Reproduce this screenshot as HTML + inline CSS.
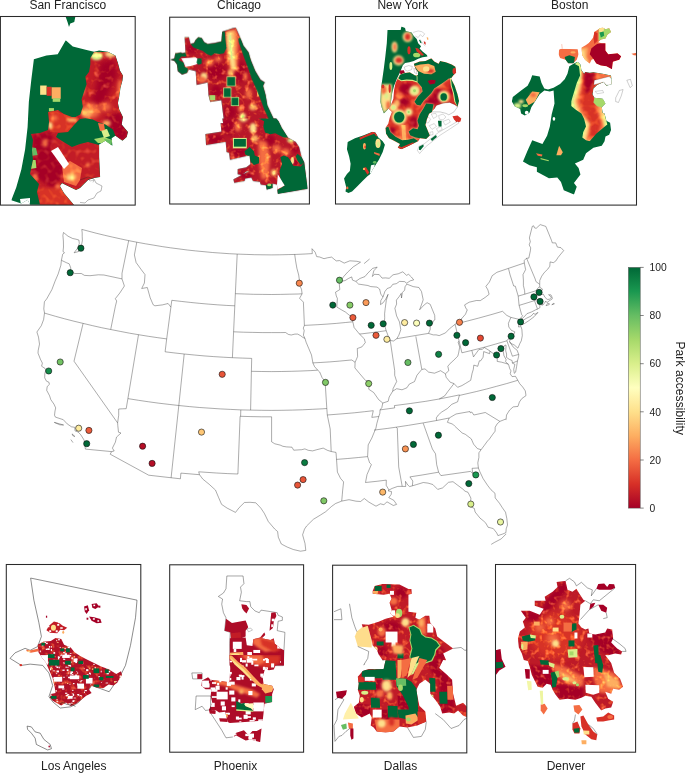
<!DOCTYPE html>
<html><head><meta charset="utf-8"><title>Park accessibility</title>
<style>html,body{margin:0;padding:0;background:#fff}svg{display:block}text{font-family:"Liberation Sans",sans-serif;fill:#222}</style></head><body>
<svg width="685" height="773" viewBox="0 0 685 773">
<rect width="685" height="773" fill="#fff"/>
<defs><linearGradient id="cb" x1="0" y1="1" x2="0" y2="0"><stop offset="0.0" stop-color="#a50026"/><stop offset="0.1" stop-color="#d73027"/><stop offset="0.2" stop-color="#f46d43"/><stop offset="0.3" stop-color="#fdae61"/><stop offset="0.4" stop-color="#fee08b"/><stop offset="0.5" stop-color="#ffffbf"/><stop offset="0.6" stop-color="#d9ef8b"/><stop offset="0.7" stop-color="#a6d96a"/><stop offset="0.8" stop-color="#66bd63"/><stop offset="0.9" stop-color="#1a9850"/><stop offset="1.0" stop-color="#006837"/></linearGradient>
<filter id="b1" x="-50%" y="-50%" width="200%" height="200%"><feGaussianBlur stdDeviation="1"/></filter>
<filter id="b2" x="-50%" y="-50%" width="200%" height="200%"><feGaussianBlur stdDeviation="2"/></filter>
<filter id="b3" x="-50%" y="-50%" width="200%" height="200%"><feGaussianBlur stdDeviation="3"/></filter>
<filter id="b5" x="-50%" y="-50%" width="200%" height="200%"><feGaussianBlur stdDeviation="5"/></filter>
</defs>
<defs><clipPath id="c1"><rect x="0.4" y="16.5" width="134.8" height="188.6"/></clipPath><clipPath id="c2"><polygon points="262,105 290,130 345,143 375,150 395,145 430,150 460,165 470,195 478,225 490,245 488,265 480,295 475,330 470,355 475,380 490,410 485,440 510,470 505,490 488,505 460,485 445,495 448,525 420,505 395,520 395,570 399,650 375,654 351,662 319,693 303,701 247,674 239,685 255,713 275,737 295,761 120,760 110,740 85,755 45,742 65,690 85,620 100,540 110,450 115,350 125,260 135,180 185,165 230,160"/></clipPath><clipPath id="c3"><polygon points="360,175 375,150 430,150 460,165 470,195 478,225 490,245 488,265 480,295 475,330 470,355 475,380 490,410 485,440 510,470 505,490 488,505 460,485 450,460 420,440 390,430 370,420 340,415 320,418 300,410 320,400 330,370 325,340 335,310 345,280 340,250 355,230 360,200"/></clipPath><clipPath id="c4"><polygon points="191.3,390.5 231.1,382.6 255.0,398.5 286.9,410.4 306.8,410.4 318.8,418.4 294.9,442.3 271.0,470.2 231.1,474.2 223.2,490.1 247.1,506.1 286.9,530.0 318.8,518.0 350.7,510.1 394.5,522.0 398.5,649.5 374.6,653.5 350.7,661.5 318.8,693.4 302.9,701.4 247.1,673.5 239.1,685.4 255.0,713.3 275.0,737.2 294.9,761.1 159.4,761.1 147.4,709.3 155.4,677.4 119.6,637.6 131.5,581.8 127.5,542.0 131.5,502.1 123.5,478.2 159.4,474.2 191.3,462.2 195.3,430.4"/></clipPath><clipPath id="c5"><rect x="169.7" y="17.2" width="139.7" height="186.8"/></clipPath><clipPath id="c6"><polygon points="335,68 395,48 415,45 440,100 460,150 490,190 505,240 530,300 560,350 585,365 575,385 590,440 600,500 640,585 660,620 345,620 345,585 330,470 265,480 255,440 250,365 185,380 180,300 140,290 130,310 100,320 75,300 70,260 55,240 30,232 55,225 60,195 95,190 100,195 120,190 118,150 115,100 140,100 150,140 170,135 180,115 195,100 215,105 230,130 250,140 290,135 330,125"/></clipPath><clipPath id="c7"><polygon points="335.6,575.5 340.6,603.5 325.6,603.5 330.6,653.5 235.7,668.5 240.7,733.5 355.6,713.5 360.6,773.5 375.6,778.5 380.6,818.5 495.6,793.5 500.6,843.5 475.6,863.5 445.6,868.5 425.6,873.5 425.6,903.5 450.6,908.5 475.6,888.5 495.6,883.5 400.6,933.5 405.6,953.5 465.6,943.5 470.6,928.5 505.6,923.5 515.6,943.5 555.6,948.5 560.6,963.5 590.6,968.5 595.6,993.5 630.6,983.5 630.6,958.5 655.6,963.5 660.6,1018.5 835.6,988.5 815.6,833.5 800.6,803.5 785.6,743.5 765.6,713.5 720.6,688.5 685.6,633.5 665.6,593.5 651.6,575.5"/></clipPath><clipPath id="c8"><polygon points="335,68 395,48 415,45 440,100 460,150 490,190 505,240 530,300 560,350 585,365 575,385 590,440 600,500 640,585 660,620 345,620 345,585 330,470 265,480 255,440 250,365 185,380 180,300 140,290 130,310 100,320 75,300 70,260 55,240 30,232 55,225 60,195 95,190 100,195 120,190 118,150 115,100 140,100 150,140 170,135 180,115 195,100 215,105 230,130 250,140 290,135 330,125"/></clipPath><clipPath id="c9"><polygon points="335.6,575.5 340.6,603.5 325.6,603.5 330.6,653.5 235.7,668.5 240.7,733.5 355.6,713.5 360.6,773.5 375.6,778.5 380.6,818.5 495.6,793.5 500.6,843.5 475.6,863.5 445.6,868.5 425.6,873.5 425.6,903.5 450.6,908.5 475.6,888.5 495.6,883.5 400.6,933.5 405.6,953.5 465.6,943.5 470.6,928.5 505.6,923.5 515.6,943.5 555.6,948.5 560.6,963.5 590.6,968.5 595.6,993.5 630.6,983.5 630.6,958.5 655.6,963.5 660.6,1018.5 835.6,988.5 815.6,833.5 800.6,803.5 785.6,743.5 765.6,713.5 720.6,688.5 685.6,633.5 665.6,593.5 651.6,575.5"/></clipPath><clipPath id="c10"><rect x="335.5" y="16.5" width="134.1" height="187.5"/></clipPath><clipPath id="c11"><polygon points="120,68 210,68 215,45 240,55 245,75 285,85 300,110 320,130 330,160 350,180 340,195 360,215 390,240 395,250 360,255 330,265 300,280 270,290 240,295 225,310 215,335 205,360 185,400 165,450 152,500 145,550 140,590 125,610 95,640 80,600 70,560 75,470 85,400 95,330 105,250 115,160"/></clipPath><clipPath id="c12"><polygon points="300,300 340,285 380,280 420,262 440,285 470,300 480,280 520,290 560,305 585,320 590,360 570,380 555,400 580,450 600,510 610,555 600,595 580,580 545,565 500,570 455,585 440,610 420,630 400,575 380,610 355,650 340,690 345,730 330,755 300,745 270,760 280,785 310,800 345,805 330,830 300,845 260,865 215,885 190,875 205,850 170,830 130,810 110,780 105,740 125,710 135,670 150,630 130,610 140,590 160,540 165,480 175,430 190,400 205,375 230,365 272,358 307,379 328,379 330,360 310,330"/><polygon points="265,764.5 295,741.5 325,747.5 335,724.5 325,689.5 340,647.5 365,607.5 385,571.5 435,577.5 425,629.5 405,641.5 390,679.5 380,719.5 395,754.5 410,791.5 385,814.5 345,809.5 310,805.5 275,789.5"/></clipPath><clipPath id="c13"><polygon points="-152.9,835 -102.9,810 -42.9,790 17.1,765 37.1,770 57.1,805 87.1,830 102.1,855 87.1,905 62.1,955 37.1,995 17.1,1025 2.1,1055 -17.9,1070 -52.9,1105 -82.9,1135 -122.9,1175 -147.9,1185 -167.9,1175 -162.9,1145 -177.9,1085 -157.9,1055 -137.9,1035 -132.9,985 -142.9,935 -157.9,885"/></clipPath><clipPath id="c14"><rect x="502.5" y="16.5" width="134.0" height="188.6"/></clipPath><clipPath id="c15"><polygon points="345,235 365,225 380,240 385,270 400,290 405,280 430,285 450,282 500,290 545,300 550,345 520,355 505,335 470,350 450,370 445,400 455,420 500,425 515,450 495,470 500,500 510,503.9 520,543.9 540,553.9 545,593.9 535,618.9 515,628.9 510,653.9 495,678.9 450,688.9 410,718.9 395,753.9 350,773.9 370,798.9 380,833.9 345,878.9 360,898.9 345,941.9 290,918.9 275,873.9 255,848.9 210,853.9 145,818.9 145,793.9 105,783.9 70,763.9 95,703.9 120,648.9 175,668.9 200,623.9 215,573.9 225,508.9 240,450 235,380 215,385 185,380 160,400 135,440 115,470 105,500 80,515 60,505 55,480 25,465 10,440 15,415 60,380 95,355 110,325 120,298 160,305 170,340 185,370 205,375 235,365 270,345 295,320 310,290 320,250"/></clipPath><clipPath id="c16"><polygon points="350,238 365,225 380,240 385,270 400,290 405,280 430,285 450,282 500,290 545,300 550,345 520,355 505,335 470,350 450,370 445,400 455,420 500,425 515,450 495,470 500,500 510,503.9 520,543.9 525,563.9 500,583.9 465,613.9 430,653.9 410,648.9 390,633.9 395,603.9 410,573.9 400,533.9 385,503.9 355,483.9 330,463.9 330,440 345,390 360,340 378,300 372,250"/></clipPath><clipPath id="c17"><polygon points="385,150 410,135 430,120 450,95 455,65 485,45 500,40 515,50 535,45 545,65 525,80 515,100 490,105 475,120 495,125 515,125 515,165 530,185 580,180 600,195 590,215 555,225 550,265 520,250 490,245 465,235 450,210 440,215 430,235 405,215 390,190"/></clipPath><clipPath id="c18"><polygon points="265,160 275,155 365,158 370,185 360,215 340,235 315,235 300,215 270,205 262,185"/></clipPath><clipPath id="c19"><rect x="6.3" y="564.5" width="134.5" height="188.4"/></clipPath><clipPath id="c20"><polygon points="145,130 175,115 215,110 240,95 270,100 285,130 320,145 340,170 370,190 400,205 440,225 480,245 520,260 560,285 585,270 590,290 565,330 545,345 520,340 490,360 455,355 430,345 415,365 430,385 400,400 375,420 350,440 320,455 295,435 270,450 250,440 225,425 210,410 215,390 240,385 235,350 225,310 215,285 200,250 190,225 170,200 150,170"/></clipPath><clipPath id="c21"><rect x="169.7" y="564.8" width="133.9" height="187.4"/></clipPath><clipPath id="c22"><polygon points="400,405 440,395 465,365 470,380 450,400 500,410 520,400 525,430 560,460 580,470 580,560 260,560 262,400 355,395 362,440 395,445"/></clipPath><clipPath id="c23"><polygon points="260,0 565,0 560,55 530,60 520,85 490,90 470,75 455,130 460,170 510,180 520,200 510,230 510,275 465,285 460,340 455,385 262,398 250,392 235,332 200,336 178,322 150,340 140,320 160,280 150,240 155,200 120,200 95,180 100,150 135,130 150,145 260,160 265,80"/><polygon points="285,478 300,455 345,440 372,470 395,445 420,445 448,430 440,510 385,495 355,500 300,472"/></clipPath><clipPath id="c24"><rect x="332.6" y="565.2" width="134.2" height="187.7"/></clipPath><clipPath id="c25"><polygon points="205,80 215,55 255,45 340,48 385,70 400,70 402,95 385,100 385,185 425,190 420,215 440,225 470,205 490,205 495,240 520,270 530,310 570,340 610,370 580,385 560,395 575,430 560,428.1 540,468.1 575,498.1 605,528.1 610,598.1 625,658.1 660,643.1 685,668.1 685,718.1 660,708.1 635,683.1 615,698.1 590,693.1 555,698.1 545,663.1 520,628.1 495,598.1 495,548.1 470,528.1 440,548.1 425,578.1 430,608.1 440,658.1 470,688.1 475,738.1 430,758.1 380,768.1 340,763.1 310,788.1 270,793.1 225,788.1 210,768.1 195,758.1 200,718.1 190,698.1 150,718.1 120,698.1 110,663.1 135,643.1 140,608.1 130,578.1 135,548.1 130,513.1 155,483.1 185,473.1 260,473.1 270,428.1 255,430 235,400 225,375 205,355 200,330 180,255 155,265 150,248 185,250 235,235 270,220 310,210 295,195 300,175 290,140 300,120 290,95 260,100 205,95"/></clipPath><clipPath id="c26"><rect x="495.5" y="564.5" width="140.1" height="187.7"/></clipPath><clipPath id="c27"><polygon points="285,60 330,55 340,100 365,110 385,95 400,120 420,150 430,155 405,175 400,230 395,270 410,290 430,300 445,295 450,320 480,325 530,315 540,295 565,300 570,345 560,365 590,395 615,410 610,425 580,420 545,430 530,428.1 560,468.1 575,518.1 605,548.1 620,588.1 600,603.1 570,598.1 560,623.1 530,613.1 545,648.1 570,663.1 560,693.1 530,698.1 510,708.1 480,668.1 460,638.1 430,633.1 410,643.1 380,653.1 340,648.1 300,653.1 280,628.1 265,603.1 255,578.1 235,573.1 215,593.1 190,588.1 175,558.1 160,528.1 150,488.1 140,458.1 120,453 110,420 95,390 90,345 100,310 125,290 115,260 130,240 105,205 150,205 200,225 220,195 175,180 175,155 230,155 225,135 265,110 290,85"/></clipPath><filter id="z1" x="-100%" y="-100%" width="300%" height="300%"><feGaussianBlur stdDeviation="1"/></filter><filter id="z2" x="-100%" y="-100%" width="300%" height="300%"><feGaussianBlur stdDeviation="2"/></filter><filter id="z3" x="-100%" y="-100%" width="300%" height="300%"><feGaussianBlur stdDeviation="3"/></filter><filter id="z4" x="-100%" y="-100%" width="300%" height="300%"><feGaussianBlur stdDeviation="4"/></filter><filter id="z5" x="-100%" y="-100%" width="300%" height="300%"><feGaussianBlur stdDeviation="5"/></filter><filter id="z6" x="-100%" y="-100%" width="300%" height="300%"><feGaussianBlur stdDeviation="6"/></filter><filter id="z7" x="-100%" y="-100%" width="300%" height="300%"><feGaussianBlur stdDeviation="7"/></filter><filter id="z8" x="-100%" y="-100%" width="300%" height="300%"><feGaussianBlur stdDeviation="8"/></filter><filter id="z9" x="-100%" y="-100%" width="300%" height="300%"><feGaussianBlur stdDeviation="9"/></filter><filter id="z10" x="-100%" y="-100%" width="300%" height="300%"><feGaussianBlur stdDeviation="10"/></filter><filter id="z12" x="-100%" y="-100%" width="300%" height="300%"><feGaussianBlur stdDeviation="12"/></filter><filter id="z14" x="-100%" y="-100%" width="300%" height="300%"><feGaussianBlur stdDeviation="14"/></filter><filter id="z20" x="-100%" y="-100%" width="300%" height="300%"><feGaussianBlur stdDeviation="20"/></filter><filter id="mot_504" x="0" y="0" width="100%" height="100%" color-interpolation-filters="sRGB"><feTurbulence type="fractalNoise" baseFrequency="0.0397" numOctaves="2" seed="3" result="n"/><feColorMatrix in="n" type="matrix" values="0.85 0 0 0 -0.442  1.00 0 0 0 -0.520  0.75 0 0 0 -0.488  0 0 0 0 1" result="m"/><feComposite in="SourceGraphic" in2="m" operator="arithmetic" k1="0" k2="1" k3="1" k4="0" result="c"/><feComposite in="c" in2="SourceGraphic" operator="in"/></filter><filter id="mot_527" x="0" y="0" width="100%" height="100%" color-interpolation-filters="sRGB"><feTurbulence type="fractalNoise" baseFrequency="0.038" numOctaves="2" seed="3" result="n"/><feColorMatrix in="n" type="matrix" values="0.85 0 0 0 -0.442  1.00 0 0 0 -0.520  0.75 0 0 0 -0.488  0 0 0 0 1" result="m"/><feComposite in="SourceGraphic" in2="m" operator="arithmetic" k1="0" k2="1" k3="1" k4="0" result="c"/><feComposite in="c" in2="SourceGraphic" operator="in"/></filter><filter id="mot_586" x="0" y="0" width="100%" height="100%" color-interpolation-filters="sRGB"><feTurbulence type="fractalNoise" baseFrequency="0.0342" numOctaves="2" seed="3" result="n"/><feColorMatrix in="n" type="matrix" values="0.85 0 0 0 -0.442  1.00 0 0 0 -0.520  0.75 0 0 0 -0.488  0 0 0 0 1" result="m"/><feComposite in="SourceGraphic" in2="m" operator="arithmetic" k1="0" k2="1" k3="1" k4="0" result="c"/><feComposite in="c" in2="SourceGraphic" operator="in"/></filter><filter id="mot2_398" x="0" y="0" width="100%" height="100%" color-interpolation-filters="sRGB"><feTurbulence type="fractalNoise" baseFrequency="0.0402" numOctaves="2" seed="8" result="n"/><feColorMatrix in="n" type="matrix" values="0.59 0 0 0 -0.309  0.70 0 0 0 -0.364  0.52 0 0 0 -0.341  0 0 0 0 1" result="m"/><feComposite in="SourceGraphic" in2="m" operator="arithmetic" k1="0" k2="1" k3="1" k4="0" result="c"/><feComposite in="c" in2="SourceGraphic" operator="in"/></filter><filter id="mot3_398" x="0" y="0" width="100%" height="100%" color-interpolation-filters="sRGB"><feTurbulence type="fractalNoise" baseFrequency="0.0502" numOctaves="1" seed="5" result="n"/><feColorMatrix in="n" type="matrix" values="0.42 0 0 0 -0.212  0.50 0 0 0 -0.250  0.38 0 0 0 -0.236  0 0 0 0 1" result="m"/><feComposite in="SourceGraphic" in2="m" operator="arithmetic" k1="0" k2="1" k3="1" k4="0" result="c"/><feComposite in="c" in2="SourceGraphic" operator="in"/></filter><filter id="mot3_539" x="0" y="0" width="100%" height="100%" color-interpolation-filters="sRGB"><feTurbulence type="fractalNoise" baseFrequency="0.0371" numOctaves="1" seed="5" result="n"/><feColorMatrix in="n" type="matrix" values="0.42 0 0 0 -0.212  0.50 0 0 0 -0.250  0.38 0 0 0 -0.236  0 0 0 0 1" result="m"/><feComposite in="SourceGraphic" in2="m" operator="arithmetic" k1="0" k2="1" k3="1" k4="0" result="c"/><feComposite in="c" in2="SourceGraphic" operator="in"/></filter><filter id="mot3_685" x="0" y="0" width="100%" height="100%" color-interpolation-filters="sRGB"><feTurbulence type="fractalNoise" baseFrequency="0.0292" numOctaves="1" seed="5" result="n"/><feColorMatrix in="n" type="matrix" values="0.42 0 0 0 -0.212  0.50 0 0 0 -0.250  0.38 0 0 0 -0.236  0 0 0 0 1" result="m"/><feComposite in="SourceGraphic" in2="m" operator="arithmetic" k1="0" k2="1" k3="1" k4="0" result="c"/><feComposite in="c" in2="SourceGraphic" operator="in"/></filter></defs>
<rect x="0.4" y="16.5" width="134.8" height="188.6" fill="#fff"/>
<rect x="169.7" y="17.2" width="139.7" height="186.8" fill="#fff"/>
<rect x="335.5" y="16.5" width="134.1" height="187.5" fill="#fff"/>
<rect x="502.5" y="16.5" width="134.0" height="188.6" fill="#fff"/>
<rect x="6.3" y="564.5" width="134.5" height="188.4" fill="#fff"/>
<rect x="169.7" y="564.8" width="133.9" height="187.4" fill="#fff"/>
<rect x="332.6" y="565.2" width="134.2" height="187.7" fill="#fff"/>
<rect x="495.5" y="564.5" width="140.1" height="187.7" fill="#fff"/>
<g clip-path="url(#c1)">
<g transform="translate(0,14) scale(0.25094)">
<polygon points="262,12 300,12 296,32 280,38 275,52 270,35" fill="#006837"/>
<g clip-path="url(#c2)"><rect x="0" y="0" width="546" height="773" fill="#006837"/><rect x="160" y="285" width="26" height="37" fill="#fee08b"/><rect x="186" y="290" width="20" height="36" fill="#d73027"/><rect x="206" y="292" width="36" height="46" fill="#fdae61"/><rect x="210" y="336" width="30" height="14" fill="#a6d96a"/><rect x="195" y="375" width="20" height="13" fill="#a6d96a" filter="url(#z2)"/><g clip-path="url(#c3)"><g filter="url(#mot2_398)"><rect x="300" y="140" width="220" height="380" fill="#c21c27"/><polygon points="400,190 450,180 470,240 440,300 420,350 390,380 360,350 380,300 390,240" fill="#a50026" filter="url(#z10)"/><polygon points="414.4,414.4 478.2,390.5 510.1,470.2 490.2,510.1 454.3,486.2 430.4,446.3" fill="#a50026" filter="url(#z6)"/><ellipse cx="362" cy="385" rx="38" ry="30" fill="#f46d43" filter="url(#z8)"/><ellipse cx="345" cy="395" rx="22" ry="16" fill="#fdae61" filter="url(#z6)"/><ellipse cx="420" cy="370" rx="22" ry="16" fill="#f46d43" filter="url(#z8)"/><ellipse cx="440" cy="160" rx="22" ry="12" fill="#fee08b" filter="url(#z6)"/><ellipse cx="385" cy="168" rx="24" ry="16" fill="#d9ef8b" filter="url(#z5)"/><ellipse cx="478" cy="300" rx="10" ry="40" fill="#f46d43" filter="url(#z6)"/><ellipse cx="425" cy="435" rx="16" ry="12" fill="#fdae61" filter="url(#z6)"/><ellipse cx="330" cy="300" rx="10" ry="25" fill="#f46d43" filter="url(#z6)"/></g></g><polygon points="374.6,498.1 414.4,490.1 446.3,502.1 442.3,527.6 414.4,514.1 390.5,514.1" fill="#a6d96a"/><polygon points="402.5,462.2 426.4,458.3 438.4,486.2 414.4,494.1" fill="#d9ef8b" filter="url(#z1)"/><polygon points="414.4,498.1 444.7,502.1 442.3,526.0 426.4,514.1" fill="#66bd63" filter="url(#z1)"/><polygon points="390.5,434.4 414.4,438.3 418.4,462.2 398.5,466.2" fill="#f46d43" filter="url(#z1)"/><g clip-path="url(#c4)"><g filter="url(#mot3_398)"><rect x="100" y="380" width="320" height="390" fill="#c21c27"/><polygon points="191.3,382.6 318.8,410.4 294.9,446.3 271.0,474.2 199.2,470.2" fill="#d73027" filter="url(#z3)"/><polygon points="131.5,482.2 199.2,470.2 215.2,502.1 199.2,534.0 255.0,605.7 239.1,661.5 207.2,693.4 159.4,661.5 127.5,637.6 131.5,581.8" fill="#a50026" filter="url(#z7)"/><polygon points="147.4,693.4 302.9,693.4 294.9,761.1 159.4,761.1" fill="#d73027" filter="url(#z6)"/><ellipse cx="200.8" cy="444.7" rx="8.0" ry="14.3" fill="#fee08b" filter="url(#z4)"/><ellipse cx="286.9" cy="422.4" rx="19.9" ry="8.0" fill="#fdae61" filter="url(#z5)"/><ellipse cx="215.2" cy="414.4" rx="14.3" ry="11.2" fill="#f46d43" filter="url(#z6)"/><ellipse cx="179.3" cy="514.1" rx="11.2" ry="15.9" fill="#f46d43" filter="url(#z6)"/><ellipse cx="139.5" cy="649.5" rx="11.2" ry="14.3" fill="#f46d43" filter="url(#z5)"/><polygon points="247.1,605.7 278.9,585.8 326.8,613.7 318.8,661.5 302.9,685.4 255.0,669.5" fill="#f46d43" filter="url(#z3)"/><ellipse cx="282.9" cy="649.5" rx="22.3" ry="15.9" fill="#fdae61" filter="url(#z5)"/><ellipse cx="282.9" cy="651.9" rx="12.8" ry="8.0" fill="#fee08b" filter="url(#z4)"/><ellipse cx="231.1" cy="687.0" rx="11.2" ry="9.6" fill="#f46d43" filter="url(#z5)"/><ellipse cx="350.7" cy="601.7" rx="8.0" ry="9.6" fill="#f46d43" filter="url(#z5)"/></g><polygon points="119.6,530.0 143.5,534.0 149.8,561.9 123.5,565.9" fill="#66bd63"/><polygon points="118.0,581.8 141.9,581.8 145.1,613.7 119.6,617.7" fill="#a6d96a"/><polygon points="203.2,545.9 231.1,530.0 275.0,597.7 255.0,617.7" fill="#fff"/></g><polygon points="79.7,737.2 119.6,733.2 119.6,761.1 83.7,761.1" fill="#fff"/></g>
<path d="M318.8,661.5 350.7,649.5 374.6,657.5 382.6,673.5 406.5,685.4 402.5,705.3 386.5,713.3 374.6,733.2 350.7,741.2 338.7,753.2 318.8,750.8" fill="none" stroke="#222" stroke-width="1.3" stroke-linejoin="round"/>
<path d="M350.7,657.5 358.7,665.5 374.6,661.5 370.6,671.1" fill="none" stroke="#222" stroke-width="1" stroke-linejoin="round"/>
</g>
</g>
<g clip-path="url(#c5)">
<g transform="translate(165,20) scale(0.17079)">
<g filter="url(#mot_586)"><g clip-path="url(#c6)"><rect x="0" y="0" width="700" height="640" fill="#b81729"/><ellipse cx="300" cy="300" rx="60" ry="50" fill="#a50026" filter="url(#z14)"/><ellipse cx="440" cy="300" rx="40" ry="60" fill="#a50026" filter="url(#z14)"/><ellipse cx="380" cy="540" rx="40" ry="40" fill="#a50026" filter="url(#z12)"/><ellipse cx="160" cy="170" rx="30" ry="25" fill="#a50026" filter="url(#z8)"/><ellipse cx="300" cy="420" rx="30" ry="40" fill="#a50026" filter="url(#z10)"/><ellipse cx="260" cy="250" rx="25" ry="20" fill="#f46d43" filter="url(#z8)"/><ellipse cx="310" cy="230" rx="20" ry="15" fill="#f46d43" filter="url(#z8)"/><polygon points="358,65 422,52 432,110 430,180 425,300 382,300 367,230 358,170 354,120" fill="#f46d43" filter="url(#z8)"/><polygon points="362,72 408,60 415,120 412,180 416,290 390,290 376,230 366,170 360,120" fill="#fdae61" filter="url(#z6)"/><polygon points="366,75 390,70 394,120 399,180 406,240 410,290 394,290 382,230 372,170 366,120" fill="#fee08b" filter="url(#z5)"/><polygon points="374,90 387,88 390,150 397,230 387,230 378,150" fill="#d9ef8b" filter="url(#z4)"/><ellipse cx="385" cy="310" rx="18" ry="22" fill="#fdae61" filter="url(#z6)"/><ellipse cx="228" cy="330" rx="20" ry="22" fill="#fee08b" filter="url(#z6)"/><ellipse cx="215" cy="350" rx="25" ry="18" fill="#f46d43" filter="url(#z6)"/><ellipse cx="490" cy="430" rx="18" ry="30" fill="#f46d43" filter="url(#z8)"/><ellipse cx="515" cy="510" rx="22" ry="18" fill="#fdae61" filter="url(#z7)"/><ellipse cx="470" cy="330" rx="12" ry="25" fill="#f46d43" filter="url(#z6)"/><ellipse cx="455" cy="562" rx="18" ry="18" fill="#fee08b" filter="url(#z5)"/><ellipse cx="455" cy="565" rx="8" ry="8" fill="#a6d96a" filter="url(#z3)"/><ellipse cx="440" cy="520" rx="12" ry="18" fill="#f46d43" filter="url(#z6)"/><ellipse cx="545" cy="420" rx="6" ry="30" fill="#fdae61" filter="url(#z4)"/></g><g clip-path="url(#c7)"><rect x="175.7" y="503.5" width="699.9000000000001" height="640.0" fill="#b81729"/><ellipse cx="375.6" cy="623.5" rx="50" ry="50" fill="#a50026" filter="url(#z14)"/><ellipse cx="295.6" cy="698.5" rx="50" ry="25" fill="#a50026" filter="url(#z10)"/><ellipse cx="435.6" cy="773.5" rx="50" ry="25" fill="#a50026" filter="url(#z10)"/><ellipse cx="615.6" cy="703.5" rx="30" ry="30" fill="#a50026" filter="url(#z10)"/><ellipse cx="475.6" cy="903.5" rx="40" ry="25" fill="#a50026" filter="url(#z10)"/><ellipse cx="765.6" cy="753.5" rx="20" ry="25" fill="#a50026" filter="url(#z8)"/><ellipse cx="765.6" cy="833.5" rx="14" ry="20" fill="#a50026" filter="url(#z6)"/><polygon points="545.6,703.5 595.6,713.5 615.6,803.5 605.6,923.5 565.6,933.5 550.6,833.5" fill="#f46d43" filter="url(#z10)"/><ellipse cx="515.6" cy="633.5" rx="20" ry="30" fill="#fee08b" filter="url(#z6)"/><ellipse cx="525.6" cy="693.5" rx="20" ry="20" fill="#fdae61" filter="url(#z6)"/><ellipse cx="458.6" cy="565.5" rx="18" ry="22" fill="#d9ef8b" filter="url(#z6)"/><ellipse cx="458.6" cy="565.5" rx="28" ry="30" fill="#fee08b" filter="url(#z8)"/><ellipse cx="653.6" cy="753.5" rx="25" ry="22" fill="#f46d43" filter="url(#z8)"/><ellipse cx="637.6" cy="893.5" rx="18" ry="20" fill="#fdae61" filter="url(#z6)"/><ellipse cx="637.6" cy="895.5" rx="9" ry="10" fill="#fee08b" filter="url(#z4)"/><ellipse cx="735.6" cy="703.5" rx="20" ry="12" fill="#d9ef8b" filter="url(#z5)"/><ellipse cx="745.6" cy="823.5" rx="10" ry="20" fill="#fee08b" filter="url(#z4)"/><ellipse cx="425.6" cy="623.5" rx="20" ry="30" fill="#f46d43" filter="url(#z10)"/><ellipse cx="705.6" cy="773.5" rx="25" ry="20" fill="#f46d43" filter="url(#z8)"/></g></g>
<g clip-path="url(#c8)"><polygon points="150,140 170,135 180,115 195,100 215,105 230,130 250,140 290,135 330,125 335,68 350,65 355,120 360,165 345,195 320,200 290,195 270,210 245,200 220,180 190,170 165,160" fill="#006837"/><polygon points="60,195 95,190 100,195 120,190 125,215 95,215 80,235 110,250 115,275 135,285 130,310 100,320 75,300 70,260 55,240 30,232 55,225" fill="#006837"/><polygon points="95,225 180,218 200,235 185,260 150,270 120,275 110,250" fill="#fff"/><polygon points="190,225 215,225 215,255 195,262 185,250" fill="#006837"/><polygon points="430,110 440,100 460,150 490,190 505,240 530,300 560,350 585,365 575,385 590,440 600,500 640,585 660,620 625,620 610,585 580,520 558,460 535,405 508,345 488,285 465,225 445,168 432,130" fill="#006837"/><rect x="361" y="331" width="53" height="58" fill="#d9ef8b" filter="url(#z3)"/><rect x="365" y="335" width="45" height="50" fill="#006837"/><rect x="341" y="396" width="48" height="58" fill="#d9ef8b" filter="url(#z3)"/><rect x="345" y="400" width="40" height="50" fill="#006837"/><rect x="386" y="451" width="48" height="53" fill="#d9ef8b" filter="url(#z3)"/><rect x="390" y="455" width="40" height="45" fill="#006837"/><rect x="260" y="440" width="35" height="30" fill="#a6d96a" filter="url(#z3)"/></g>
<g clip-path="url(#c9)"><polygon points="547.6,575.5 651.6,575.5 665.6,593.5 685.6,633.5 720.6,688.5 695.6,688.5 665.6,673.5 645.6,663.5 615.6,668.5 585.6,658.5 575.6,623.5 580.6,593.5" fill="#006837"/><polygon points="397.6,690.5 478.6,690.5 478.6,751.5 397.6,751.5" fill="#d9ef8b" filter="url(#z3)"/><rect x="403.6" y="696.5" width="70.0" height="45.0" fill="#006837"/><polygon points="465.6,768.5 495.6,743.5 520.6,768.5 525.6,793.5 550.6,803.5 550.6,838.5 520.6,848.5 500.6,828.5 495.6,798.5 470.6,788.5" fill="#006837"/><polygon points="675.6,803.5 695.6,793.5 720.6,803.5 735.6,823.5 750.6,853.5 795.6,858.5 815.6,833.5 835.6,988.5 660.6,1018.5 655.6,998.5 700.6,968.5 675.6,933.5 670.6,883.5 685.6,843.5" fill="#006837"/><polygon points="660.6,903.5 700.6,968.5 653.6,993.5" fill="#fff"/><polygon points="775.6,783.5 800.6,803.5 815.6,833.5 795.6,848.5 775.6,823.5 765.6,798.5" fill="#006837"/><polygon points="590.6,965.5 630.6,958.5 630.6,985.5 595.6,993.5" fill="#006837"/><ellipse cx="610.6" cy="965.5" rx="12" ry="8" fill="#a6d96a" filter="url(#z3)"/></g>
</g>
</g>
<g clip-path="url(#c10)">
<g transform="translate(370,20) scale(0.14599)">
<g clip-path="url(#c11)"><rect x="0" y="0" width="700" height="700" fill="#006837"/><ellipse cx="258" cy="115" rx="34" ry="36" fill="#fee08b" filter="url(#z6)"/><ellipse cx="258" cy="115" rx="20" ry="24" fill="#d73027" filter="url(#z7)"/><ellipse cx="168" cy="185" rx="20" ry="38" fill="#fee08b" filter="url(#z6)"/><ellipse cx="170" cy="185" rx="10" ry="25" fill="#f46d43" filter="url(#z6)"/><ellipse cx="267" cy="208" rx="11" ry="28" fill="#d73027" filter="url(#z4)"/><ellipse cx="195" cy="278" rx="36" ry="34" fill="#fee08b" filter="url(#z6)"/><ellipse cx="198" cy="275" rx="24" ry="20" fill="#d73027" filter="url(#z7)"/><ellipse cx="320" cy="240" rx="25" ry="16" fill="#a6d96a" filter="url(#z5)"/><polygon points="310,190 330,195 370,240 355,245 320,215" fill="#d73027" filter="url(#z3)"/><ellipse cx="143" cy="315" rx="10" ry="28" fill="#d9ef8b" filter="url(#z5)"/><polygon points="78,440 150,440 150,500 145,550 140,590 125,610 95,640 80,600 70,560" fill="#fee08b" filter="url(#z8)"/><ellipse cx="95" cy="480" rx="18" ry="30" fill="#f46d43" filter="url(#z8)"/><ellipse cx="88" cy="455" rx="10" ry="14" fill="#d73027" filter="url(#z5)"/><ellipse cx="125" cy="585" rx="14" ry="30" fill="#f46d43" filter="url(#z7)"/><ellipse cx="112" cy="520" rx="14" ry="20" fill="#d9ef8b" filter="url(#z6)"/><ellipse cx="135" cy="470" rx="8" ry="30" fill="#d73027" filter="url(#z5)"/><ellipse cx="222" cy="362" rx="18" ry="12" fill="#a50026" filter="url(#z4)"/></g>
<polygon points="204,346 232,344 238,362 215,372 203,365" fill="#a50026"/>
<path d="M235,322 265,312 290,318 285,340 255,350 240,342 Z" fill="none" stroke="#222" stroke-width="1.3" stroke-linejoin="round"/>
<path d="M300,330 318,345 322,370 305,360 Z" fill="none" stroke="#222" stroke-width="1.3" stroke-linejoin="round"/>
<path d="M215,365 240,358 235,380 218,385 Z" fill="none" stroke="#222" stroke-width="1.2" stroke-linejoin="round"/>
<g clip-path="url(#c12)"><g filter="url(#mot3_685)"><rect x="0" y="0" width="700" height="1000" fill="#d73027"/><ellipse cx="250" cy="470" rx="50" ry="40" fill="#a50026" filter="url(#z12)"/><ellipse cx="470" cy="520" rx="40" ry="50" fill="#a50026" filter="url(#z12)"/><ellipse cx="230" cy="560" rx="40" ry="30" fill="#a50026" filter="url(#z10)"/><ellipse cx="420" cy="560" rx="40" ry="30" fill="#a50026" filter="url(#z10)"/><ellipse cx="300" cy="700" rx="30" ry="40" fill="#a50026" filter="url(#z10)"/><ellipse cx="150" cy="760" rx="25" ry="25" fill="#a50026" filter="url(#z8)"/><ellipse cx="560" cy="470" rx="15" ry="40" fill="#a50026" filter="url(#z8)"/><ellipse cx="200" cy="520" rx="25" ry="25" fill="#f46d43" filter="url(#z8)"/><ellipse cx="185" cy="570" rx="20" ry="25" fill="#fdae61" filter="url(#z7)"/><ellipse cx="480" cy="450" rx="30" ry="18" fill="#f46d43" filter="url(#z8)"/><polygon points="198,715 258,715 262,825 208,830" fill="#f46d43" filter="url(#z6)"/><polygon points="215,720 243,720 247,820 222,820" fill="#fdae61" filter="url(#z4)"/></g><polygon points="300,300 340,285 380,280 420,262 440,285 470,300 480,280 520,290 560,305 585,320 590,360 570,380 555,400 540,400 500,430 440,470 420,500 400,520 370,550 345,585 320,580 305,560 330,520 360,490 355,460 320,420 290,395 250,390 290,370 320,385 330,360 310,330" fill="#fee08b" filter="url(#z7)"/><polygon points="300,300 340,285 380,280 420,262 440,285 470,300 480,280 520,290 560,305 585,320 590,360 570,380 555,400 540,400 500,430 440,470 420,500 400,520 370,550 345,585 320,580 305,560 330,520 360,490 355,460 320,420 290,395 250,390 290,370 320,385 330,360 310,330" fill="#006837"/><polygon points="200,378 230,362 272,355 310,378 325,385 325,428 290,418 250,416 215,420 190,405" fill="#d9ef8b" filter="url(#z5)"/><polygon points="205,375 230,365 272,358 307,379 320,385 320,420 290,410 250,408 215,412 195,400" fill="#006837"/><polygon points="305,315 345,305 400,300 440,315 450,355 420,372 370,368 330,350" fill="#fdae61" filter="url(#z5)"/><ellipse cx="415" cy="350" rx="25" ry="14" fill="#d73027" filter="url(#z6)"/><ellipse cx="385" cy="335" rx="22" ry="18" fill="#fee08b" filter="url(#z5)"/><ellipse cx="578" cy="350" rx="13" ry="22" fill="#d73027" filter="url(#z4)"/><polygon points="395,418 420,410 450,412 445,435 410,442" fill="#a50026" filter="url(#z2)"/><polygon points="548,395 562,400 585,450 605,510 612,555 600,595 578,560 568,500 553,450" fill="#d9ef8b" filter="url(#z4)"/><polygon points="555,400 580,450 600,510 610,555 600,595 585,560 575,500 560,450" fill="#006837"/><ellipse cx="505" cy="525" rx="40" ry="42" fill="#fee08b" filter="url(#z9)"/><ellipse cx="505" cy="527" rx="28" ry="30" fill="#a6d96a" filter="url(#z5)"/><ellipse cx="505" cy="527" rx="22" ry="25" fill="#006837" filter="url(#z3)"/><ellipse cx="305" cy="485" rx="36" ry="36" fill="#fee08b" filter="url(#z9)"/><ellipse cx="305" cy="485" rx="22" ry="22" fill="#d9ef8b" filter="url(#z6)"/><ellipse cx="305" cy="485" rx="10" ry="10" fill="#a6d96a" filter="url(#z4)"/><ellipse cx="160" cy="600" rx="28" ry="28" fill="#fee08b" filter="url(#z8)"/><ellipse cx="160" cy="600" rx="14" ry="14" fill="#d9ef8b" filter="url(#z5)"/><ellipse cx="265" cy="630" rx="26" ry="26" fill="#fee08b" filter="url(#z8)"/><ellipse cx="265" cy="630" rx="14" ry="14" fill="#d9ef8b" filter="url(#z5)"/><ellipse cx="265" cy="630" rx="7" ry="7" fill="#a6d96a" filter="url(#z3)"/><ellipse cx="200" cy="665" rx="52" ry="52" fill="#fee08b" filter="url(#z9)"/><ellipse cx="200" cy="665" rx="40" ry="42" fill="#a6d96a" filter="url(#z4)"/><ellipse cx="200" cy="665" rx="35" ry="37" fill="#006837" filter="url(#z2)"/><polygon points="265,764.5 295,741.5 325,747.5 335,724.5 325,689.5 340,647.5 365,607.5 385,571.5 435,577.5 425,629.5 405,641.5 390,679.5 380,719.5 395,754.5 410,791.5 385,814.5 345,809.5 310,805.5 275,789.5" fill="#fee08b" filter="url(#z7)"/><polygon points="265,764.5 295,741.5 325,747.5 335,724.5 325,689.5 340,647.5 365,607.5 385,571.5 435,577.5 425,629.5 405,641.5 390,679.5 380,719.5 395,754.5 410,791.5 385,814.5 345,809.5 310,805.5 275,789.5" fill="#006837"/><polygon points="105,739.5 125,729.5 140,769.5 175,799.5 220,824.5 260,819.5 300,809.5 330,829.5 300,844.5 260,864.5 215,884.5 190,874.5 205,849.5 170,829.5 130,809.5 110,779.5" fill="#fee08b" filter="url(#z6)"/><polygon points="105,739.5 125,729.5 140,769.5 175,799.5 220,824.5 260,819.5 300,809.5 330,829.5 300,844.5 260,864.5 215,884.5 190,874.5 205,849.5 170,829.5 130,809.5 110,779.5" fill="#006837"/><polygon points="190,874.5 215,884.5 260,864.5 300,844.5 296,837.5 255,854.5 215,871.5 200,862.5" fill="#d73027"/></g>
<path d="M440,609.5 455,584.5 500,569.5 545,564.5 580,579.5 600,594.5 575,629.5 540,649.5 520,639.5 480,629.5 450,629.5 420,629.5" fill="none" stroke="#222" stroke-width="1.5" stroke-linejoin="round"/>
<path d="M380,679.5 400,664.5 415,679.5 400,704.5 385,704.5 Z" fill="none" stroke="#222" stroke-width="1.2" stroke-linejoin="round"/>
<path d="M420,644.5 450,639.5 460,659.5 435,674.5 Z" fill="none" stroke="#222" stroke-width="1.2" stroke-linejoin="round"/>
<path d="M470,654.5 500,644.5 520,664.5 500,684.5 475,679.5 Z" fill="none" stroke="#222" stroke-width="1.2" stroke-linejoin="round"/>
<path d="M405,724.5 440,709.5 455,729.5 425,749.5 Z" fill="none" stroke="#222" stroke-width="1.2" stroke-linejoin="round"/>
<path d="M500,694.5 540,679.5 550,699.5 515,719.5 Z" fill="none" stroke="#222" stroke-width="1.2" stroke-linejoin="round"/>
<path d="M455,744.5 485,729.5 495,749.5 465,764.5 Z" fill="none" stroke="#222" stroke-width="1.2" stroke-linejoin="round"/>
<path d="M410,769.5 430,764.5 432,784.5 412,789.5 Z" fill="none" stroke="#222" stroke-width="1.2" stroke-linejoin="round"/>
<polygon points="465,689.5 490,689.5 490,729.5 470,729.5" fill="#006837"/>
<polygon points="565,659.5 600,654.5 625,674.5 620,694.5 595,704.5 575,679.5" fill="#d73027"/>
<polygon points="325,894.5 335,864.5 370,849.5 420,809.5 470,769.5 540,729.5 600,694.5 610,704.5 550,744.5 480,789.5 430,829.5 380,869.5 340,914.5" fill="#fff"/>
<path d="M325,894.5 335,864.5 370,849.5 420,809.5 470,769.5 540,729.5 600,694.5 610,704.5 550,744.5 480,789.5 430,829.5 380,869.5 340,914.5 Z" fill="none" stroke="#222" stroke-width="1.3" stroke-linejoin="round"/>
<polygon points="335,867.5 365,852.5 368,864.5 345,891.5 335,889.5" fill="#006837"/>
<polygon points="415,814.5 452,787.5 458,801.5 425,829.5" fill="#006837"/>
<path d="M295,85 330,75 355,80 375,95 360,115 345,100 330,120 310,110" fill="none" stroke="#222" stroke-width="1.2" stroke-linejoin="round"/>
<path d="M340,130 355,150 370,170 380,180" fill="none" stroke="#222" stroke-width="1.2" stroke-linejoin="round"/>
<polygon points="368,145 380,150 382,170 372,165" fill="#d73027"/>
<polygon points="388,118 398,120 400,135 392,135" fill="#fdae61"/>
<polygon points="335,135 345,138 355,160 345,158" fill="#006837"/>
<g clip-path="url(#c13)"><rect x="-200" y="700" width="400" height="600" fill="#006837"/><polygon points="-72.9,807 17.1,765 37.1,770 52.1,795 42.1,797 29.1,780 -32.9,803 -67.9,820" fill="#d73027"/><ellipse cx="55.1" cy="845" rx="18" ry="32" fill="#fee08b" filter="url(#z5)"/><ellipse cx="57.1" cy="850" rx="9" ry="18" fill="#d9ef8b" filter="url(#z4)"/><ellipse cx="-37.9" cy="865" rx="10" ry="22" fill="#fdae61" filter="url(#z4)"/><ellipse cx="-32.9" cy="870" rx="5" ry="10" fill="#d73027" filter="url(#z3)"/><polygon points="27.1,905 67.1,917 65.1,931 29.1,917" fill="#f46d43" filter="url(#z2)"/><polygon points="-47.9,1015 -27.9,1007 -4.9,1045 -17.9,1060 -32.9,1035" fill="#d73027" filter="url(#z2)"/><ellipse cx="-40.9" cy="1020" rx="8" ry="8" fill="#fdae61" filter="url(#z3)"/><ellipse cx="-155.9" cy="1150" rx="8" ry="9" fill="#f46d43" filter="url(#z2)"/><polygon points="7.1,995 32.1,990 29.1,1025 12.1,1053 -0.9,1050" fill="#fff"/><ellipse cx="32.1" cy="975" rx="12" ry="10" fill="#66bd63" filter="url(#z4)"/></g>
</g>
</g>
<g clip-path="url(#c14)">
<g transform="translate(510,20) scale(0.18539)">
<g clip-path="url(#c15)"><rect x="0" y="200" width="700" height="800" fill="#006837"/><g clip-path="url(#c16)"><g filter="url(#mot3_539)"><rect x="300" y="200" width="300" height="520" fill="#d9ef8b"/><polygon points="378,235 560,290 560,560 540,600 480,660 390,660 410,560 362,500 342,440 365,360 388,300" fill="#fee08b" filter="url(#z4)"/><polygon points="384,245 560,292 520,360 490,420 500,520 520,590 480,650 405,655 425,560 372,500 352,440 375,360 394,300" fill="#fdae61" filter="url(#z5)"/><polygon points="390,260 550,298 500,350 470,400 480,500 505,580 470,640 415,648 435,560 382,495 362,440 385,360" fill="#f46d43" filter="url(#z6)"/><polygon points="398,275 465,285 465,340 455,400 462,470 490,560 470,625 425,638 445,570 400,500 378,440 392,350" fill="#d73027" filter="url(#z7)"/><polygon points="403,280 455,284 450,340 430,380 410,400 400,340" fill="#a50026" filter="url(#z5)"/><ellipse cx="450" cy="585" rx="16" ry="30" fill="#d73027" filter="url(#z7)"/><ellipse cx="520" cy="555" rx="10" ry="40" fill="#d9ef8b" filter="url(#z5)"/></g></g><polygon points="455,420 500,425 515,450 495,470 470,465 450,445" fill="#a6d96a"/><polygon points="455,325 535,305 550,320 548,350 520,352 505,335 470,345 452,350" fill="#fff"/><path d="M455,325 535,305 550,320 548,350 520,352 505,335 470,345 452,350 Z" fill="none" stroke="#222" stroke-width="1.2" stroke-linejoin="round"/><polygon points="120,385 160,390 135,440 100,460 85,430" fill="#fdae61" filter="url(#z4)"/><ellipse cx="125" cy="405" rx="15" ry="12" fill="#f46d43" filter="url(#z5)"/><ellipse cx="40" cy="462" rx="20" ry="14" fill="#d9ef8b" filter="url(#z5)"/><ellipse cx="82" cy="462" rx="16" ry="8" fill="#a6d96a" filter="url(#z4)"/><ellipse cx="60" cy="440" rx="14" ry="10" fill="#fee08b" filter="url(#z5)"/><ellipse cx="90" cy="500" rx="10" ry="10" fill="#fff"/><polygon points="265,678.9 285,713.9 275,728.9 250,728.9" fill="#fdae61" filter="url(#z2)"/><polygon points="140,718.9 175,725.9 172,735.9 150,731.9" fill="#f46d43" filter="url(#z2)"/><polygon points="165,743.9 210,755.9 208,761.9 165,750.9" fill="#a6d96a" filter="url(#z1)"/><ellipse cx="237" cy="533" rx="7" ry="10" fill="#fff"/></g>
<g clip-path="url(#c17)"><rect x="380" y="30" width="240" height="250" fill="#f46d43"/><polygon points="440,150 470,130 495,125 515,125 515,165 530,185 580,180 600,195 590,215 555,225 550,265 520,250 490,245 465,235 450,210 430,185" fill="#a50026"/><polygon points="380,150 420,150 415,200 432,238 380,220" fill="#fdae61" filter="url(#z5)"/><polygon points="380,160 400,165 402,200 420,232 385,215" fill="#fee08b" filter="url(#z5)"/><polygon points="425,118 455,60 475,70 475,118 440,152" fill="#f46d43" filter="url(#z3)"/><polygon points="450,95 455,62 472,72 472,112 455,130" fill="#d73027" filter="url(#z3)"/><polygon points="478,40 550,40 550,110 478,110" fill="#a6d96a"/><polygon points="478,40 508,40 505,62 482,68" fill="#fee08b" filter="url(#z3)"/><polygon points="483,68 505,62 508,85 490,95" fill="#1a9850" filter="url(#z2)"/></g>
<g clip-path="url(#c18)"><rect x="250" y="150" width="130" height="90" fill="#f46d43"/><polygon points="295,200 320,190 350,200 345,240 305,240" fill="#006837" filter="url(#z2)"/><ellipse cx="340" cy="175" rx="14" ry="6" fill="#fdae61" filter="url(#z3)"/></g>
<path d="M279,130 282,155" fill="none" stroke="#f46d43" stroke-width="2" stroke-linejoin="round"/>
<polygon points="655,182 685,176 685,192 668,190" fill="#f46d43"/>
<path d="M630,325 650,320 660,355 648,365 Z" fill="none" stroke="#222" stroke-width="1.2" stroke-linejoin="round"/>
<path d="M570,420 590,380 610,375 600,410 585,445 570,440 Z" fill="none" stroke="#222" stroke-width="1.2" stroke-linejoin="round"/>
<path d="M460,385 500,380 505,392 470,398 Z" fill="none" stroke="#222" stroke-width="1" stroke-linejoin="round"/>
</g>
</g>
<g clip-path="url(#c19)">
<g transform="translate(0,560) scale(0.25094)">
<path d="M122,72 546,160 540,230 520,340 500,420 480,460 435,525 365,500 352,520 335,545 310,570 282,585 240,590 210,565 195,545 210,500 195,450 170,420 120,415 85,420 40,392 60,370 100,352 120,360 150,345 165,305 155,250 135,160 Z" fill="none" stroke="#1a1a1a" stroke-width="2.0" stroke-linejoin="round"/>
<path d="M108,662 125,665 140,685 160,690 175,715 200,735 205,752 190,757 165,745 145,735 140,710 125,690 110,675 Z" fill="none" stroke="#1a1a1a" stroke-width="2.0" stroke-linejoin="round"/>
<ellipse cx="196" cy="743" rx="3" ry="4" fill="#a50026"/>
<polygon points="335,185 350,180 355,200 345,215 338,205" fill="#a50026" filter="url(#z1)"/>
<polygon points="365,175 385,172 395,185 380,195 368,190" fill="#a50026" filter="url(#z1)"/>
<polygon points="355,225 375,228 400,235 405,250 385,252 365,242" fill="#a50026" filter="url(#z1)"/>
<rect x="345" y="230" width="7" height="8" fill="#a50026"/>
<rect x="392" y="182" width="8" height="8" fill="#a50026"/>
<rect x="372" y="178" width="7" height="6" fill="#fff"/>
<rect x="340" y="192" width="6" height="8" fill="#fff"/>
<rect x="370" y="232" width="8" height="6" fill="#fff"/>
<rect x="388" y="240" width="7" height="6" fill="#fff"/>
<polygon points="195,262 215,245 235,250 250,262 268,270 255,280 240,278 228,292 200,290 185,280" fill="#c21c27" filter="url(#z2)"/>
<ellipse cx="213" cy="270" rx="10" ry="12" fill="#fee08b" filter="url(#z3)"/>
<rect x="228" y="255" width="8" height="7" fill="#fff"/>
<rect x="240" y="268" width="10" height="6" fill="#fff"/>
<rect x="196" y="280" width="8" height="7" fill="#fff"/>
<rect x="222" y="280" width="8" height="8" fill="#fff"/>
<rect x="190" y="262" width="7" height="6" fill="#fff"/>
<rect x="232" y="246" width="6" height="6" fill="#fff"/>
<ellipse cx="252" cy="288" rx="4" ry="6" fill="#fdae61" filter="url(#z1)"/>
<rect x="183" y="222" width="5" height="8" fill="#a50026"/>
</g>
<g transform="translate(10,620) scale(0.18979)">
<g clip-path="url(#c20)"><g filter="url(#mot_527)"><rect x="100" y="80" width="520" height="390" fill="#b01027"/></g><rect x="286" y="149" width="10" height="4" fill="#fff"/><rect x="381" y="227" width="5" height="6" fill="#fff"/><rect x="157" y="251" width="5" height="4" fill="#fff"/><rect x="331" y="393" width="5" height="4" fill="#fff"/><rect x="422" y="436" width="10" height="6" fill="#fff"/><rect x="579" y="112" width="12" height="5" fill="#fff"/><rect x="205" y="137" width="7" height="9" fill="#fff"/><rect x="221" y="304" width="10" height="6" fill="#fff"/><rect x="386" y="118" width="5" height="4" fill="#fff"/><rect x="446" y="249" width="7" height="7" fill="#fff"/><rect x="344" y="203" width="11" height="8" fill="#fff"/><rect x="250" y="302" width="9" height="9" fill="#fff"/><rect x="468" y="199" width="13" height="3" fill="#fff"/><rect x="328" y="368" width="6" height="6" fill="#fff"/><rect x="158" y="336" width="11" height="7" fill="#fff"/><rect x="534" y="208" width="10" height="7" fill="#fff"/><rect x="401" y="259" width="12" height="10" fill="#fff"/><rect x="353" y="334" width="5" height="8" fill="#fff"/><rect x="431" y="453" width="12" height="5" fill="#fff"/><rect x="314" y="336" width="4" height="6" fill="#fff"/><rect x="216" y="137" width="4" height="9" fill="#fff"/><rect x="198" y="184" width="8" height="9" fill="#fff"/><rect x="176" y="257" width="9" height="9" fill="#fff"/><rect x="509" y="406" width="6" height="6" fill="#fff"/><rect x="301" y="413" width="13" height="4" fill="#fff"/><rect x="219" y="179" width="6" height="6" fill="#fff"/><rect x="405" y="190" width="4" height="6" fill="#fff"/><rect x="306" y="299" width="13" height="8" fill="#fff"/><rect x="372" y="317" width="10" height="4" fill="#fff"/><rect x="545" y="376" width="12" height="8" fill="#fff"/><rect x="317" y="239" width="5" height="7" fill="#fff"/><rect x="168" y="119" width="6" height="4" fill="#fff"/><rect x="293" y="114" width="4" height="4" fill="#fff"/><rect x="186" y="226" width="4" height="9" fill="#fff"/><rect x="416" y="148" width="7" height="6" fill="#fff"/><rect x="304" y="139" width="12" height="10" fill="#fff"/><rect x="350" y="269" width="4" height="4" fill="#fff"/><rect x="294" y="190" width="12" height="4" fill="#fff"/><rect x="150" y="437" width="9" height="4" fill="#fff"/><rect x="384" y="105" width="9" height="10" fill="#fff"/><rect x="528" y="346" width="7" height="5" fill="#fff"/><rect x="215" y="373" width="9" height="8" fill="#fff"/><rect x="288" y="175" width="12" height="10" fill="#fff"/><rect x="524" y="385" width="11" height="8" fill="#fff"/><rect x="242" y="281" width="7" height="4" fill="#fff"/><rect x="153" y="196" width="6" height="7" fill="#fff"/><rect x="570" y="256" width="13" height="10" fill="#fff"/><rect x="570" y="226" width="6" height="5" fill="#fff"/><rect x="229" y="169" width="9" height="9" fill="#fff"/><rect x="518" y="268" width="10" height="8" fill="#fff"/><rect x="178" y="333" width="12" height="8" fill="#fff"/><rect x="478" y="267" width="5" height="9" fill="#fff"/><rect x="290" y="383" width="12" height="6" fill="#fff"/><rect x="321" y="436" width="10" height="4" fill="#fff"/><rect x="197" y="149" width="12" height="9" fill="#fff"/><rect x="206" y="393" width="13" height="7" fill="#fff"/><rect x="298" y="293" width="5" height="3" fill="#fff"/><rect x="577" y="329" width="9" height="9" fill="#fff"/><rect x="335" y="409" width="12" height="4" fill="#fff"/><rect x="253" y="200" width="6" height="8" fill="#fff"/><rect x="257" y="246" width="5" height="9" fill="#fff"/><rect x="299" y="260" width="9" height="9" fill="#fff"/><rect x="329" y="425" width="9" height="7" fill="#fff"/><rect x="376" y="102" width="8" height="4" fill="#fff"/><rect x="142" y="383" width="5" height="6" fill="#fff"/><rect x="466" y="295" width="7" height="7" fill="#fff"/><rect x="390" y="377" width="5" height="7" fill="#fff"/><rect x="252" y="195" width="11" height="6" fill="#fff"/><rect x="393" y="369" width="12" height="6" fill="#fff"/><rect x="416" y="277" width="8" height="8" fill="#fff"/><rect x="344" y="287" width="8" height="10" fill="#fff"/><rect x="455" y="411" width="12" height="4" fill="#fff"/><rect x="392" y="435" width="11" height="4" fill="#fff"/><rect x="195" y="254" width="4" height="5" fill="#fff"/><rect x="173" y="336" width="11" height="9" fill="#fff"/><rect x="210" y="353" width="9" height="4" fill="#fff"/><rect x="537" y="443" width="6" height="10" fill="#fff"/><rect x="319" y="270" width="13" height="9" fill="#fff"/><rect x="213" y="250" width="8" height="6" fill="#fff"/><rect x="228" y="210" width="11" height="3" fill="#fff"/><rect x="389" y="254" width="4" height="5" fill="#fff"/><rect x="421" y="279" width="4" height="10" fill="#fff"/><rect x="495" y="445" width="5" height="5" fill="#fff"/><rect x="158" y="375" width="6" height="4" fill="#fff"/><rect x="330" y="423" width="11" height="5" fill="#fff"/><rect x="207" y="426" width="9" height="8" fill="#fff"/><rect x="180" y="116" width="10" height="6" fill="#fff"/><rect x="173" y="433" width="9" height="8" fill="#fff"/><rect x="178" y="403" width="4" height="9" fill="#fff"/><rect x="344" y="217" width="9" height="10" fill="#fff"/><rect x="261" y="142" width="8" height="4" fill="#fff"/><rect x="189" y="153" width="5" height="5" fill="#fff"/><rect x="280" y="205" width="11" height="5" fill="#fff"/><rect x="365" y="159" width="7" height="3" fill="#fff"/><rect x="253" y="101" width="10" height="6" fill="#fff"/><rect x="225" y="266" width="13" height="4" fill="#fff"/><rect x="509" y="251" width="8" height="8" fill="#fff"/><rect x="317" y="277" width="10" height="10" fill="#fff"/><rect x="294" y="395" width="11" height="7" fill="#fff"/><rect x="322" y="220" width="5" height="4" fill="#fff"/><rect x="172" y="362" width="6" height="4" fill="#fff"/><rect x="178" y="398" width="12" height="8" fill="#fff"/><rect x="267" y="182" width="7" height="6" fill="#fff"/><rect x="211" y="255" width="6" height="10" fill="#fff"/><rect x="578" y="292" width="6" height="10" fill="#fff"/><rect x="279" y="223" width="4" height="6" fill="#fff"/><rect x="354" y="276" width="5" height="7" fill="#fff"/><rect x="142" y="190" width="5" height="6" fill="#fff"/><rect x="159" y="103" width="6" height="5" fill="#fff"/><rect x="404" y="286" width="10" height="7" fill="#fff"/><rect x="462" y="411" width="8" height="6" fill="#fff"/><rect x="583" y="149" width="11" height="7" fill="#fff"/><rect x="160" y="396" width="12" height="7" fill="#fff"/><rect x="470" y="387" width="5" height="7" fill="#fff"/><rect x="367" y="396" width="11" height="8" fill="#fff"/><rect x="403" y="416" width="10" height="8" fill="#fff"/><rect x="243" y="106" width="6" height="6" fill="#fff"/><rect x="187" y="396" width="9" height="7" fill="#fff"/><rect x="422" y="340" width="8" height="3" fill="#fff"/><rect x="499" y="364" width="8" height="7" fill="#fff"/><rect x="437" y="119" width="10" height="5" fill="#fff"/><rect x="174" y="191" width="10" height="4" fill="#fff"/><rect x="473" y="446" width="8" height="6" fill="#fff"/><rect x="356" y="341" width="10" height="7" fill="#fff"/><rect x="429" y="123" width="6" height="5" fill="#fff"/><rect x="474" y="205" width="10" height="3" fill="#fff"/><rect x="167" y="192" width="10" height="8" fill="#fff"/><rect x="444" y="200" width="9" height="6" fill="#fff"/><rect x="350" y="138" width="12" height="4" fill="#fff"/><rect x="580" y="432" width="4" height="6" fill="#fff"/><rect x="509" y="444" width="8" height="4" fill="#fff"/><rect x="234" y="435" width="6" height="7" fill="#fff"/><rect x="204" y="284" width="12" height="4" fill="#fff"/><rect x="509" y="278" width="12" height="8" fill="#fff"/><rect x="244" y="418" width="8" height="3" fill="#fff"/><rect x="142" y="272" width="8" height="5" fill="#fff"/><rect x="203" y="219" width="7" height="9" fill="#fff"/><rect x="141" y="365" width="11" height="4" fill="#fff"/><rect x="557" y="352" width="12" height="5" fill="#fff"/><rect x="307" y="236" width="13" height="8" fill="#fff"/><rect x="302" y="249" width="7" height="3" fill="#fff"/><rect x="186" y="395" width="6" height="10" fill="#fff"/><rect x="252" y="191" width="9" height="4" fill="#fff"/><rect x="308" y="439" width="12" height="9" fill="#fff"/><rect x="424" y="424" width="12" height="7" fill="#fff"/><rect x="464" y="113" width="10" height="6" fill="#fff"/><rect x="479" y="327" width="6" height="3" fill="#fff"/><rect x="557" y="141" width="8" height="5" fill="#fff"/><rect x="274" y="361" width="13" height="5" fill="#fff"/><rect x="435" y="203" width="9" height="6" fill="#fff"/><rect x="215" y="153" width="6" height="10" fill="#fff"/><rect x="364" y="174" width="12" height="10" fill="#fff"/><rect x="342" y="145" width="6" height="4" fill="#fff"/><rect x="294" y="128" width="6" height="5" fill="#fff"/><rect x="396" y="414" width="11" height="6" fill="#fff"/><rect x="326" y="284" width="8" height="5" fill="#fff"/><rect x="168" y="195" width="13" height="4" fill="#fff"/><rect x="367" y="322" width="11" height="4" fill="#fff"/><rect x="262" y="184" width="8" height="7" fill="#fff"/><rect x="569" y="401" width="12" height="3" fill="#fff"/><rect x="155" y="350" width="12" height="7" fill="#fff"/><rect x="404" y="95" width="8" height="10" fill="#fff"/><rect x="512" y="403" width="12" height="5" fill="#fff"/><rect x="189" y="151" width="9" height="7" fill="#fff"/><rect x="564" y="355" width="9" height="8" fill="#fff"/><rect x="346" y="294" width="4" height="8" fill="#fff"/><rect x="245" y="426" width="9" height="5" fill="#fff"/><rect x="198" y="186" width="9" height="8" fill="#fff"/><rect x="190" y="120" width="9" height="7" fill="#fff"/><rect x="315" y="175" width="9" height="4" fill="#fff"/><rect x="276" y="261" width="12" height="7" fill="#fff"/><rect x="538" y="266" width="6" height="5" fill="#fff"/><rect x="572" y="349" width="7" height="3" fill="#fff"/><rect x="364" y="338" width="8" height="5" fill="#fff"/><rect x="440" y="428" width="6" height="3" fill="#fff"/><rect x="292" y="246" width="10" height="5" fill="#fff"/><rect x="499" y="361" width="8" height="5" fill="#fff"/><rect x="576" y="207" width="12" height="5" fill="#fff"/><rect x="240" y="369" width="6" height="9" fill="#fff"/><rect x="363" y="162" width="6" height="6" fill="#fff"/><rect x="439" y="437" width="6" height="5" fill="#fff"/><rect x="236" y="446" width="5" height="3" fill="#fff"/><rect x="167" y="237" width="12" height="9" fill="#fff"/><rect x="470" y="454" width="12" height="5" fill="#fff"/><rect x="223" y="432" width="11" height="3" fill="#fff"/><rect x="439" y="231" width="7" height="6" fill="#fff"/><rect x="216" y="96" width="7" height="5" fill="#fff"/><rect x="570" y="140" width="13" height="4" fill="#fff"/><rect x="300" y="391" width="12" height="6" fill="#fff"/><rect x="162" y="265" width="8" height="10" fill="#fff"/><rect x="227" y="226" width="12" height="3" fill="#fff"/><rect x="325" y="387" width="11" height="4" fill="#fff"/><rect x="156" y="118" width="12" height="4" fill="#fff"/><rect x="476" y="418" width="7" height="5" fill="#fff"/><rect x="571" y="317" width="6" height="8" fill="#fff"/><rect x="282" y="194" width="4" height="9" fill="#fff"/><rect x="552" y="323" width="13" height="3" fill="#fff"/><rect x="245" y="266" width="13" height="10" fill="#fff"/><rect x="314" y="185" width="8" height="7" fill="#fff"/><rect x="558" y="161" width="11" height="8" fill="#fff"/><rect x="510" y="373" width="10" height="6" fill="#fff"/><rect x="284" y="225" width="11" height="4" fill="#fff"/><rect x="229" y="366" width="6" height="3" fill="#fff"/><rect x="155" y="294" width="7" height="10" fill="#fff"/><rect x="538" y="451" width="6" height="3" fill="#fff"/><rect x="183" y="274" width="11" height="7" fill="#fff"/><rect x="245" y="245" width="10" height="8" fill="#fff"/><rect x="477" y="400" width="10" height="4" fill="#fff"/><rect x="518" y="201" width="9" height="5" fill="#fff"/><rect x="472" y="167" width="6" height="4" fill="#fff"/><rect x="209" y="413" width="9" height="6" fill="#fff"/><rect x="318" y="452" width="9" height="5" fill="#fff"/><rect x="504" y="330" width="13" height="4" fill="#fff"/><rect x="354" y="390" width="11" height="9" fill="#fff"/><rect x="158" y="201" width="5" height="4" fill="#fff"/><rect x="578" y="305" width="12" height="6" fill="#fff"/><rect x="530" y="257" width="6" height="8" fill="#fff"/><rect x="566" y="133" width="9" height="7" fill="#fff"/><rect x="238" y="228" width="5" height="4" fill="#fff"/><rect x="255" y="311" width="10" height="4" fill="#fff"/><rect x="145" y="213" width="10" height="4" fill="#fff"/><rect x="280" y="168" width="12" height="7" fill="#fff"/><rect x="168" y="131" width="8" height="7" fill="#fff"/><rect x="428" y="128" width="5" height="8" fill="#fff"/><rect x="324" y="197" width="7" height="10" fill="#fff"/><rect x="281" y="299" width="7" height="6" fill="#fff"/><rect x="529" y="454" width="7" height="4" fill="#fff"/><rect x="468" y="168" width="4" height="10" fill="#fff"/><rect x="331" y="390" width="7" height="10" fill="#fff"/><rect x="347" y="154" width="5" height="6" fill="#fff"/><rect x="428" y="423" width="5" height="7" fill="#fff"/><rect x="307" y="277" width="5" height="5" fill="#fff"/><rect x="375" y="428" width="5" height="7" fill="#fff"/><rect x="502" y="443" width="6" height="4" fill="#fff"/><rect x="564" y="446" width="9" height="4" fill="#fff"/><rect x="557" y="235" width="12" height="7" fill="#fff"/><rect x="511" y="153" width="11" height="4" fill="#fff"/><rect x="322" y="400" width="11" height="4" fill="#fff"/><rect x="238" y="239" width="9" height="6" fill="#fff"/><rect x="195" y="184" width="11" height="9" fill="#fff"/><rect x="158" y="297" width="11" height="4" fill="#fff"/><rect x="517" y="137" width="10" height="7" fill="#fff"/><rect x="422" y="205" width="8" height="7" fill="#fff"/><rect x="332" y="332" width="8" height="6" fill="#fff"/><rect x="151" y="318" width="8" height="4" fill="#fff"/><rect x="484" y="376" width="8" height="4" fill="#fff"/><rect x="353" y="134" width="5" height="6" fill="#fff"/><rect x="181" y="254" width="9" height="3" fill="#fff"/><rect x="426" y="125" width="11" height="8" fill="#fff"/><rect x="370" y="115" width="9" height="5" fill="#fff"/><rect x="568" y="144" width="12" height="10" fill="#fff"/><rect x="469" y="388" width="6" height="10" fill="#fff"/><rect x="361" y="439" width="13" height="5" fill="#fff"/><rect x="495" y="430" width="4" height="5" fill="#fff"/><rect x="480" y="152" width="12" height="5" fill="#fff"/><rect x="507" y="147" width="9" height="9" fill="#fff"/><rect x="234" y="190" width="8" height="5" fill="#fff"/><rect x="157" y="161" width="5" height="9" fill="#fff"/><rect x="446" y="417" width="5" height="9" fill="#fff"/><rect x="192" y="286" width="10" height="6" fill="#fff"/><rect x="533" y="295" width="7" height="9" fill="#f46d43"/><rect x="253" y="288" width="10" height="8" fill="#f46d43"/><rect x="259" y="452" width="8" height="6" fill="#f46d43"/><rect x="339" y="159" width="8" height="4" fill="#fee08b"/><rect x="254" y="325" width="10" height="8" fill="#d73027"/><rect x="543" y="359" width="9" height="5" fill="#f46d43"/><rect x="417" y="251" width="7" height="9" fill="#fdae61"/><rect x="360" y="316" width="4" height="4" fill="#fee08b"/><rect x="300" y="133" width="6" height="6" fill="#fee08b"/><rect x="276" y="143" width="6" height="9" fill="#fdae61"/><rect x="201" y="432" width="5" height="5" fill="#f46d43"/><rect x="169" y="147" width="8" height="6" fill="#f46d43"/><rect x="575" y="115" width="9" height="10" fill="#fee08b"/><rect x="431" y="255" width="9" height="8" fill="#fdae61"/><rect x="214" y="95" width="5" height="4" fill="#fdae61"/><rect x="247" y="116" width="9" height="4" fill="#fee08b"/><rect x="436" y="166" width="6" height="7" fill="#d73027"/><rect x="368" y="326" width="9" height="5" fill="#f46d43"/><rect x="169" y="320" width="10" height="9" fill="#d73027"/><rect x="462" y="97" width="9" height="9" fill="#d73027"/><rect x="176" y="331" width="5" height="10" fill="#f46d43"/><rect x="245" y="109" width="6" height="8" fill="#d73027"/><rect x="564" y="190" width="5" height="8" fill="#d73027"/><rect x="336" y="379" width="7" height="5" fill="#d73027"/><rect x="558" y="417" width="4" height="7" fill="#fdae61"/><rect x="257" y="180" width="9" height="10" fill="#d73027"/><rect x="552" y="164" width="6" height="8" fill="#d73027"/><rect x="548" y="322" width="9" height="8" fill="#fee08b"/><rect x="351" y="397" width="8" height="9" fill="#d73027"/><rect x="570" y="179" width="9" height="9" fill="#d73027"/><rect x="420" y="123" width="10" height="5" fill="#f46d43"/><rect x="190" y="319" width="5" height="10" fill="#d73027"/><rect x="153" y="110" width="8" height="8" fill="#d73027"/><rect x="171" y="112" width="9" height="8" fill="#fdae61"/><rect x="508" y="390" width="9" height="4" fill="#d73027"/><rect x="565" y="134" width="5" height="4" fill="#f46d43"/><rect x="567" y="423" width="9" height="5" fill="#d73027"/><rect x="425" y="267" width="4" height="9" fill="#d73027"/><rect x="232" y="210" width="7" height="4" fill="#f46d43"/><rect x="559" y="112" width="8" height="10" fill="#fee08b"/><rect x="367" y="401" width="7" height="5" fill="#d73027"/><rect x="154" y="282" width="5" height="7" fill="#f46d43"/><rect x="382" y="173" width="9" height="5" fill="#f46d43"/><rect x="217" y="95" width="5" height="9" fill="#f46d43"/><rect x="142" y="272" width="7" height="8" fill="#fdae61"/><rect x="575" y="308" width="10" height="7" fill="#fee08b"/><rect x="565" y="197" width="5" height="8" fill="#d73027"/><rect x="215" y="433" width="8" height="7" fill="#d73027"/><rect x="393" y="133" width="6" height="4" fill="#d73027"/><rect x="541" y="363" width="7" height="8" fill="#f46d43"/><rect x="233" y="190" width="9" height="7" fill="#d73027"/><rect x="582" y="322" width="10" height="5" fill="#fee08b"/><rect x="480" y="366" width="7" height="6" fill="#f46d43"/><rect x="375" y="407" width="6" height="8" fill="#f46d43"/><rect x="216" y="253" width="9" height="7" fill="#fdae61"/><rect x="290" y="326" width="9" height="7" fill="#f46d43"/><rect x="276" y="348" width="9" height="5" fill="#fdae61"/><rect x="579" y="355" width="7" height="6" fill="#fdae61"/><rect x="288" y="163" width="9" height="9" fill="#f46d43"/><rect x="214" y="332" width="5" height="5" fill="#fdae61"/><rect x="498" y="359" width="6" height="5" fill="#d73027"/><rect x="550" y="196" width="9" height="7" fill="#f46d43"/><rect x="320" y="380" width="8" height="7" fill="#d73027"/><rect x="273" y="103" width="6" height="8" fill="#f46d43"/><rect x="473" y="422" width="7" height="7" fill="#d73027"/><rect x="431" y="400" width="8" height="7" fill="#d73027"/><rect x="455" y="402" width="8" height="8" fill="#d73027"/><rect x="335" y="189" width="8" height="9" fill="#fdae61"/><rect x="492" y="352" width="8" height="5" fill="#d73027"/><rect x="357" y="102" width="9" height="7" fill="#d73027"/><rect x="559" y="161" width="8" height="9" fill="#d73027"/><rect x="514" y="422" width="5" height="5" fill="#fdae61"/><rect x="212" y="376" width="10" height="8" fill="#f46d43"/><rect x="521" y="259" width="5" height="7" fill="#f46d43"/><rect x="428" y="393" width="7" height="7" fill="#d73027"/><rect x="235" y="341" width="6" height="9" fill="#f46d43"/><rect x="468" y="316" width="8" height="6" fill="#d73027"/><rect x="320" y="100" width="6" height="6" fill="#d73027"/><rect x="444" y="304" width="4" height="6" fill="#d73027"/><rect x="563" y="285" width="5" height="9" fill="#d73027"/><rect x="348" y="154" width="10" height="5" fill="#d73027"/><rect x="227" y="326" width="8" height="9" fill="#fdae61"/><rect x="299" y="325" width="9" height="9" fill="#d73027"/><rect x="588" y="369" width="8" height="8" fill="#d73027"/><rect x="300" y="401" width="5" height="6" fill="#f46d43"/><rect x="582" y="339" width="7" height="9" fill="#f46d43"/><rect x="301" y="331" width="6" height="6" fill="#fee08b"/><rect x="427" y="332" width="6" height="10" fill="#d73027"/><rect x="166" y="393" width="9" height="9" fill="#fdae61"/><rect x="379" y="219" width="7" height="8" fill="#fdae61"/><rect x="150" y="185" width="50" height="50" fill="#fff" filter="url(#z2)"/><rect x="230" y="300" width="45" height="25" fill="#fff" filter="url(#z2)"/><rect x="315" y="292" width="50" height="20" fill="#fff" filter="url(#z2)"/><rect x="400" y="305" width="35" height="30" fill="#fff" filter="url(#z2)"/><rect x="275" y="183" width="40" height="17" fill="#fff" filter="url(#z2)"/><rect x="335" y="203" width="20" height="19" fill="#fff" filter="url(#z2)"/><rect x="355" y="335" width="35" height="27" fill="#fff" filter="url(#z2)"/><rect x="255" y="345" width="30" height="15" fill="#fff" filter="url(#z2)"/><rect x="305" y="400" width="25" height="15" fill="#fff" filter="url(#z2)"/><rect x="165" y="120" width="20" height="15" fill="#006837"/><rect x="200" y="180" width="35" height="20" fill="#006837"/><rect x="205" y="210" width="55" height="30" fill="#006837"/><rect x="295" y="150" width="20" height="20" fill="#006837"/><rect x="290" y="215" width="30" height="20" fill="#006837"/><rect x="320" y="250" width="20" height="20" fill="#006837"/><rect x="385" y="290" width="30" height="20" fill="#006837"/><rect x="440" y="255" width="30" height="25" fill="#006837"/><rect x="500" y="260" width="20" height="20" fill="#006837"/><rect x="505" y="295" width="40" height="10" fill="#006837"/><rect x="440" y="340" width="30" height="15" fill="#006837"/><rect x="215" y="400" width="30" height="15" fill="#006837"/><rect x="265" y="150" width="20" height="15" fill="#006837"/><rect x="360" y="215" width="25" height="17" fill="#006837"/><rect x="470" y="300" width="22" height="18" fill="#006837"/></g>
<polygon points="85,157 110,160 150,150 150,165 110,172 88,165" fill="#f46d43" filter="url(#z2)"/>
<ellipse cx="57" cy="238" rx="7" ry="6" fill="#d73027" filter="url(#z1)"/>
<ellipse cx="100" cy="165" rx="8" ry="4" fill="#fee08b" filter="url(#z2)"/>
<path d="M265,440 280,435 300,445 330,448 345,455" fill="none" stroke="#111" stroke-width="2.5" stroke-linejoin="round"/>
</g>
</g>
<g clip-path="url(#c21)">
<g transform="translate(185,570) scale(0.17079)">
<path d="M245,35 340,35 345,80 325,100 330,130 320,180 360,185 380,185 385,215 410,240 435,250 445,235 510,245 540,250 545,265 570,275 570,295 545,300 540,355 585,365 580,460 575,560 265,560 262,430 265,365 232,355 240,280 225,250 215,200 220,170 195,155 225,135 240,110 Z" fill="none" stroke="#1a1a1a" stroke-width="2.3" stroke-linejoin="round"/>
<polygon points="240,285 275,310 330,300 355,295 365,320 370,335 355,355 355,390 330,400 300,410 270,415 265,365 232,355" fill="#ad0c27"/>
<polygon points="270,370 325,365 328,400 300,410 270,415" fill="#c21c27" filter="url(#z3)"/>
<polygon points="330,200 360,205 375,225 360,255 345,240 335,225" fill="#ad0c27"/>
<polygon points="505,250 530,248 535,270 520,300 515,340 495,355 500,300" fill="#ad0c27"/>
<rect x="508" y="285" width="17" height="15" fill="#fff"/>
<rect x="505" y="318" width="10" height="17" fill="#fff"/>
<g clip-path="url(#c22)"><rect x="250" y="360" width="350" height="210" fill="#ad0c27"/><polygon points="400,400 445,395 520,410 530,470 470,480 420,450 395,430" fill="#f46d43" filter="url(#z5)"/><polygon points="440,400 520,420 560,470 520,480 450,440" fill="#d73027" filter="url(#z5)"/><polygon points="262,485 340,480 345,520 262,535" fill="#fdae61" filter="url(#z4)"/><ellipse cx="295" cy="498" rx="25" ry="10" fill="#fee08b" filter="url(#z4)"/><rect x="280" y="420" width="52" height="42" fill="#fff"/><rect x="365" y="480" width="27" height="30" fill="#fff"/><rect x="400" y="468" width="40" height="18" fill="#fff"/><rect x="480" y="500" width="32" height="25" fill="#fff"/><rect x="540" y="438" width="22" height="22" fill="#fff"/><rect x="285" y="462" width="15" height="18" fill="#fff"/><rect x="500" y="385" width="20" height="15" fill="#fff"/></g>
<path d="M362,345 385,340 395,352 372,362 Z" fill="none" stroke="#222" stroke-width="1.5" stroke-linejoin="round"/>
</g>
<g transform="translate(185,655) scale(0.17079)">
<g clip-path="url(#c23)"><rect x="80" y="-5" width="520" height="525" fill="#ad0c27"/><polygon points="170,140 230,150 300,175 350,190 400,205 440,230 420,250 350,225 300,210 230,180 170,170" fill="#f46d43" filter="url(#z6)"/><polygon points="300,0 560,0 555,50 480,80 420,60 350,30" fill="#d73027" filter="url(#z8)"/><polygon points="330,0 450,0 470,40 430,60 380,40" fill="#f46d43" filter="url(#z6)"/><ellipse cx="330" cy="215" rx="14" ry="14" fill="#fdae61" filter="url(#z5)"/><rect x="209" y="272" width="24" height="24" fill="#fff"/><rect x="388" y="33" width="12" height="24" fill="#fff"/><rect x="219" y="117" width="30" height="24" fill="#fff"/><rect x="283" y="431" width="18" height="14" fill="#fff"/><rect x="499" y="262" width="12" height="10" fill="#fff"/><rect x="173" y="479" width="12" height="18" fill="#fff"/><rect x="459" y="412" width="24" height="24" fill="#fff"/><rect x="374" y="460" width="30" height="24" fill="#fff"/><rect x="282" y="400" width="30" height="14" fill="#fff"/><rect x="504" y="49" width="18" height="24" fill="#fff"/><rect x="200" y="483" width="30" height="18" fill="#fff"/><rect x="294" y="417" width="24" height="24" fill="#fff"/><rect x="369" y="452" width="12" height="18" fill="#fff"/><rect x="556" y="336" width="18" height="18" fill="#fff"/><rect x="544" y="452" width="12" height="14" fill="#fff"/><rect x="391" y="494" width="24" height="18" fill="#fff"/><rect x="157" y="241" width="30" height="10" fill="#fff"/><rect x="258" y="33" width="18" height="10" fill="#fff"/><rect x="235" y="384" width="12" height="10" fill="#fff"/><rect x="378" y="381" width="30" height="18" fill="#fff"/><rect x="353" y="461" width="24" height="14" fill="#fff"/><rect x="559" y="155" width="12" height="10" fill="#fff"/><rect x="376" y="16" width="18" height="24" fill="#fff"/><rect x="234" y="132" width="12" height="18" fill="#fff"/><rect x="244" y="479" width="30" height="24" fill="#fff"/><rect x="312" y="260" width="12" height="18" fill="#fff"/><rect x="298" y="360" width="18" height="18" fill="#fff"/><rect x="301" y="129" width="24" height="18" fill="#fff"/><rect x="105" y="208" width="24" height="10" fill="#fff"/><rect x="273" y="295" width="18" height="10" fill="#fff"/><rect x="391" y="166" width="24" height="18" fill="#fff"/><rect x="380" y="139" width="30" height="10" fill="#fff"/><rect x="371" y="477" width="12" height="18" fill="#fff"/><rect x="216" y="228" width="24" height="14" fill="#fff"/><rect x="267" y="156" width="24" height="18" fill="#fff"/><rect x="238" y="189" width="12" height="14" fill="#fff"/><rect x="243" y="111" width="24" height="14" fill="#fff"/><rect x="251" y="339" width="12" height="10" fill="#fff"/><rect x="376" y="475" width="18" height="24" fill="#fff"/><rect x="472" y="480" width="12" height="18" fill="#fff"/><rect x="441" y="109" width="30" height="18" fill="#fff"/><rect x="204" y="60" width="18" height="18" fill="#fff"/><rect x="471" y="419" width="18" height="18" fill="#fff"/><rect x="256" y="414" width="12" height="18" fill="#fff"/><rect x="371" y="211" width="24" height="24" fill="#fff"/><rect x="259" y="208" width="30" height="24" fill="#fff"/><rect x="116" y="207" width="18" height="10" fill="#fff"/><rect x="320" y="416" width="30" height="14" fill="#fff"/><rect x="115" y="228" width="24" height="18" fill="#fff"/><rect x="509" y="431" width="24" height="10" fill="#fff"/><rect x="473" y="23" width="18" height="24" fill="#fff"/><rect x="365" y="7" width="12" height="14" fill="#fff"/><rect x="331" y="120" width="12" height="24" fill="#fff"/><rect x="124" y="457" width="12" height="18" fill="#fff"/><rect x="158" y="486" width="30" height="10" fill="#fff"/><rect x="262" y="99" width="12" height="14" fill="#fff"/><rect x="210" y="137" width="18" height="10" fill="#fff"/><rect x="324" y="285" width="30" height="10" fill="#fff"/><rect x="448" y="124" width="30" height="10" fill="#fff"/><rect x="318" y="388" width="12" height="10" fill="#fff"/><rect x="457" y="23" width="12" height="10" fill="#fff"/><rect x="322" y="17" width="12" height="24" fill="#fff"/><rect x="245" y="157" width="24" height="24" fill="#fff"/><rect x="398" y="293" width="24" height="18" fill="#fff"/><rect x="188" y="164" width="12" height="14" fill="#fff"/><rect x="356" y="358" width="30" height="10" fill="#fff"/><rect x="361" y="21" width="30" height="24" fill="#fff"/><rect x="393" y="22" width="30" height="10" fill="#fff"/><rect x="271" y="248" width="24" height="24" fill="#fff"/><rect x="537" y="209" width="12" height="14" fill="#fff"/><rect x="201" y="135" width="12" height="24" fill="#fff"/><rect x="203" y="65" width="12" height="18" fill="#fff"/><rect x="272" y="449" width="24" height="10" fill="#fff"/><rect x="314" y="62" width="30" height="10" fill="#fff"/><rect x="438" y="282" width="12" height="10" fill="#fff"/><rect x="318" y="118" width="30" height="10" fill="#fff"/><rect x="343" y="282" width="30" height="14" fill="#fff"/><rect x="477" y="171" width="12" height="10" fill="#fff"/><rect x="488" y="337" width="24" height="18" fill="#fff"/><rect x="467" y="18" width="18" height="10" fill="#fff"/><rect x="355" y="50" width="12" height="18" fill="#fff"/><rect x="500" y="90" width="12" height="14" fill="#fff"/><rect x="559" y="323" width="30" height="24" fill="#fff"/><rect x="216" y="300" width="24" height="24" fill="#fff"/><rect x="545" y="188" width="18" height="24" fill="#fff"/><rect x="488" y="484" width="30" height="24" fill="#fff"/><rect x="172" y="201" width="18" height="14" fill="#fff"/><rect x="144" y="374" width="30" height="14" fill="#fff"/><rect x="163" y="376" width="18" height="18" fill="#fff"/><rect x="530" y="426" width="24" height="24" fill="#fff"/><rect x="374" y="292" width="24" height="14" fill="#fff"/><rect x="241" y="134" width="30" height="14" fill="#fff"/><rect x="179" y="180" width="24" height="24" fill="#fff"/><rect x="456" y="72" width="30" height="14" fill="#fff"/><rect x="315" y="417" width="12" height="24" fill="#fff"/><rect x="557" y="36" width="30" height="10" fill="#fff"/><rect x="315" y="115" width="18" height="10" fill="#fff"/><rect x="541" y="427" width="18" height="14" fill="#fff"/><rect x="457" y="69" width="12" height="18" fill="#fff"/><rect x="178" y="23" width="18" height="24" fill="#fff"/><rect x="142" y="399" width="12" height="10" fill="#fff"/><rect x="222" y="457" width="12" height="18" fill="#fff"/><rect x="308" y="367" width="24" height="10" fill="#fff"/><rect x="114" y="166" width="30" height="24" fill="#fff"/><rect x="136" y="322" width="30" height="24" fill="#fff"/><rect x="158" y="159" width="24" height="10" fill="#fff"/><rect x="406" y="56" width="24" height="10" fill="#fff"/><rect x="343" y="350" width="24" height="24" fill="#fff"/><rect x="236" y="338" width="24" height="10" fill="#fff"/><rect x="447" y="481" width="12" height="24" fill="#fff"/><rect x="334" y="30" width="24" height="14" fill="#fff"/><rect x="397" y="365" width="18" height="14" fill="#fff"/><rect x="271" y="460" width="30" height="10" fill="#fff"/><rect x="150" y="280" width="24" height="24" fill="#fff"/><rect x="355" y="324" width="30" height="24" fill="#fff"/><rect x="244" y="88" width="12" height="10" fill="#fff"/><rect x="429" y="377" width="30" height="18" fill="#fff"/><rect x="146" y="135" width="12" height="14" fill="#fff"/><rect x="119" y="252" width="18" height="18" fill="#fff"/><rect x="503" y="473" width="30" height="10" fill="#fff"/><polygon points="250,0 275,5 310,40 355,75 400,125 440,165 470,180 455,195 420,175 385,140 340,95 295,55 258,20" fill="#fdae61" filter="url(#z3)"/><polygon points="262,12 300,45 345,85 390,135 380,140 335,95 290,55" fill="#fee08b" filter="url(#z2)"/><polygon points="455,165 500,160 520,185 510,215 470,225 450,200" fill="#fdae61" filter="url(#z2)"/><rect x="185" y="215" width="65" height="45" fill="#fff"/><rect x="100" y="150" width="40" height="40" fill="#fff"/><rect x="150" y="190" width="28" height="25" fill="#fff"/><rect x="400" y="278" width="62" height="52" fill="#fff"/><polygon points="300,270 330,285 350,280 355,300 385,310 400,330 300,320" fill="#006837"/><polygon points="345,285 400,282 400,325 385,312 355,300" fill="#ffffbf" filter="url(#z2)"/><polygon points="300,318 400,326 400,332 300,326" fill="#d9ef8b"/><rect x="470" y="240" width="40" height="40" fill="#1a9850"/><rect x="215" y="345" width="35" height="20" fill="#fdae61" filter="url(#z3)"/></g>
<path d="M65,240 150,240 150,320 120,325 100,300 60,320 Z" fill="none" stroke="#1a1a1a" stroke-width="2.3" stroke-linejoin="round"/>
<path d="M40,105 100,105 100,140 45,140 Z" fill="none" stroke="#1a1a1a" stroke-width="2.3" stroke-linejoin="round"/>
<rect x="72" y="112" width="28" height="28" fill="#ad0c27"/>
<path d="M150,340 215,440 240,485 280,480" fill="none" stroke="#1a1a1a" stroke-width="2.3" stroke-linejoin="round"/>
<polygon points="140,320 180,325 178,345 145,342" fill="#ad0c27"/>
<polygon points="200,370 250,372 248,392 205,390" fill="#ad0c27"/>
</g>
</g>
<g clip-path="url(#c24)">
<g transform="translate(332,575) scale(0.19853)">
<polygon points="150,265 180,250 200,335 200,365 130,360 115,310 125,285" fill="#fedd8c"/>
<g clip-path="url(#c25)"><g filter="url(#mot_504)"><rect x="100" y="0" width="600" height="900" fill="#c01b28"/><ellipse cx="300" cy="260" rx="50" ry="30" fill="#a50026" filter="url(#z10)"/><ellipse cx="250" cy="390" rx="30" ry="40" fill="#a50026" filter="url(#z10)"/><ellipse cx="540" cy="400" rx="30" ry="40" fill="#a50026" filter="url(#z10)"/><polygon points="480,428.1 560,428.1 540,468.1 575,498.1 605,528.1 610,598.1 620,678.1 555,698.1 545,663.1 540,528.1 500,488.1" fill="#a50026" filter="url(#z5)"/><polygon points="110,648.1 190,653.1 195,718.1 150,718.1 120,698.1" fill="#a50026" filter="url(#z4)"/><polygon points="210,528.1 250,528.1 255,618.1 215,618.1" fill="#a50026" filter="url(#z4)"/><polygon points="250,678.1 290,678.1 290,758.1 250,758.1" fill="#a50026" filter="url(#z4)"/><polygon points="330,608.1 400,613.1 395,678.1 335,678.1" fill="#a50026" filter="url(#z4)"/><ellipse cx="350" cy="90" rx="30" ry="30" fill="#a50026" filter="url(#z8)"/></g><rect x="215" y="55" width="35" height="25" fill="#006837"/><rect x="275" y="48" width="20" height="17" fill="#006837"/><polygon points="205,80 232,80 230,96 205,95" fill="#fdae61" filter="url(#z2)"/><ellipse cx="310" cy="132" rx="20" ry="18" fill="#f46d43" filter="url(#z5)"/><ellipse cx="338" cy="192" rx="16" ry="22" fill="#a6d96a" filter="url(#z4)"/><ellipse cx="330" cy="205" rx="12" ry="12" fill="#fee08b" filter="url(#z4)"/><ellipse cx="370" cy="238" rx="20" ry="22" fill="#fee08b" filter="url(#z5)"/><polygon points="430,215 470,210 475,300 440,300" fill="#f46d43" filter="url(#z6)"/><ellipse cx="450" cy="240" rx="12" ry="20" fill="#fdae61" filter="url(#z5)"/><ellipse cx="250" cy="285" rx="20" ry="25" fill="#f46d43" filter="url(#z6)"/><ellipse cx="245" cy="275" rx="10" ry="10" fill="#fdae61" filter="url(#z4)"/><rect x="270" y="285" width="60" height="55" fill="#fff"/><rect x="300" y="335" width="20" height="25" fill="#fff"/><rect x="480" y="245" width="30" height="45" fill="#fff"/><rect x="295" y="178" width="23" height="27" fill="#fff"/><rect x="292" y="80" width="20" height="20" fill="#fff"/><polygon points="385,262 412,250 445,272 455,298 472,310 502,315 530,332 548,356 525,380 520,402 505,435 470,446 440,436 432,460 396,460 390,410 400,370 390,330 395,300" fill="#a6d96a" filter="url(#z3)"/><polygon points="390,265 410,255 440,275 450,300 470,315 500,320 525,335 540,355 520,375 515,400 500,430 470,440 440,430 430,470 400,470 395,410 405,370 395,330 400,300" fill="#006837"/><rect x="225" y="335" width="35" height="20" fill="#006837"/><ellipse cx="218" cy="375" rx="12" ry="15" fill="#fee08b" filter="url(#z4)"/><rect x="330" y="395" width="30" height="25" fill="#006837"/><polygon points="300,350 360,355 355,400 310,395" fill="#fdae61" filter="url(#z5)"/><polygon points="150,478.1 260,473.1 262,520.1 150,520.1" fill="#006837"/><polygon points="250,428.1 320,433.1 325,528.1 255,528.1" fill="#006837"/><polygon points="130,538.1 220,540.1 222,578.1 132,578.1" fill="#006837"/><rect x="165" y="513.1" width="50" height="20.0" fill="#fff"/><polygon points="322,520.1 372,523.1 400,538.1 430,578.1 432,628.1 435,718.1 395,728.1 385,663.1 355,603.1 325,560.1" fill="#006837"/><polygon points="322,520.1 372,523.1 374,558.1 326,560.1" fill="#66bd63"/><polygon points="330,678.1 400,678.1 430,658.1 435,718.1 380,728.1 335,718.1" fill="#006837"/><polygon points="195,618.1 240,618.1 242,668.1 197,668.1" fill="#006837"/><polygon points="280,658.1 330,660.1 332,718.1 282,718.1" fill="#006837"/><polygon points="370,708.1 420,698.1 440,728.1 400,753.1 372,748.1" fill="#fdae61" filter="url(#z3)"/><polygon points="430,688.1 470,690.1 472,746.1 432,750.1" fill="#d73027" filter="url(#z2)"/><polygon points="540,588.1 580,588.1 582,648.1 542,648.1" fill="#006837"/><polygon points="580,558.1 610,558.1 612,628.1 582,628.1" fill="#f46d43" filter="url(#z3)"/><polygon points="490,518.1 520,520.1 522,588.1 492,588.1" fill="#006837"/><polygon points="485,603.1 510,603.1 512,628.1 487,628.1" fill="#d9ef8b" filter="url(#z2)"/><polygon points="215,728.1 340,728.1 340,763.1 310,788.1 270,793.1 225,788.1" fill="#f46d43" filter="url(#z3)"/><ellipse cx="250" cy="748.1" rx="20" ry="20" fill="#fee08b" filter="url(#z5)"/><ellipse cx="300" cy="738.1" rx="14" ry="22" fill="#d73027" filter="url(#z5)"/><polygon points="130,513.1 160,513.1 160,540.1 130,540.1" fill="#d73027"/><polygon points="330,428.1 360,428.1 345,518.1 330,523.1" fill="#fdae61" filter="url(#z3)"/><polygon points="400,418.1 440,408.1 400,498.1 380,518.1" fill="#fee08b" filter="url(#z3)"/><polygon points="440,418.1 480,428.1 430,518.1 405,528.1" fill="#f46d43" filter="url(#z3)"/><polygon points="420,448.1 440,438.1 410,498.1 398,503.1" fill="#d9ef8b" filter="url(#z2)"/><polygon points="350,428.1 400,418.1 375,508.1 350,518.1" fill="#f46d43" filter="url(#z4)"/><rect x="205" y="678.1" width="45" height="40.0" fill="#fff"/><ellipse cx="385.0" cy="728.1" rx="12" ry="10" fill="#a6d96a" filter="url(#z3)"/><ellipse cx="275" cy="558.1" rx="25" ry="30" fill="#fee08b" filter="url(#z7)"/><ellipse cx="240" cy="598.1" rx="20" ry="20" fill="#f46d43" filter="url(#z6)"/><ellipse cx="290" cy="608.1" rx="14" ry="20" fill="#fdae61" filter="url(#z5)"/><ellipse cx="345" cy="568.1" rx="12" ry="16" fill="#a6d96a" filter="url(#z4)"/><ellipse cx="165" cy="593.1" rx="18" ry="10" fill="#d9ef8b" filter="url(#z4)"/><ellipse cx="150" cy="628.1" rx="10" ry="14" fill="#fee08b" filter="url(#z4)"/></g>
<polygon points="20,588.1 75,580.1 70,603.1 50,623.1 25,618.1" fill="#a50026"/>
<polygon points="95,643.1 135,723.1 55,728.1 65,698.1" fill="#fff0aa"/>
<polygon points="45,756.1 72,748.1 75,773.1 55,780.1" fill="#66bd63"/>
<polygon points="80,743.1 105,748.1 105,778.1 85,773.1" fill="#f46d43"/>
<polygon points="92,773.1 108,773.1 108,823.1 98,830.1 92,808.1" fill="#a50026"/>
<path d="M10,185 45,170 50,225 10,225" fill="none" stroke="#1a1a1a" stroke-width="2.0" stroke-linejoin="round"/>
<path d="M88,145 95,185 100,215 115,260 125,285" fill="none" stroke="#1a1a1a" stroke-width="2.0" stroke-linejoin="round"/>
<path d="M130,360 185,385 180,420 160,453 165,448.1" fill="none" stroke="#1a1a1a" stroke-width="2.0" stroke-linejoin="round"/>
<path d="M15,628.1 40,613.1 60,628.1 30,678.1 25,728.1 10,758.1 15,838.1 35,813.1 50,808.1 70,788.1 90,773.1" fill="none" stroke="#1a1a1a" stroke-width="2.0" stroke-linejoin="round"/>
<path d="M380,768.1 410,818.1 450,813.1 470,778.1 475,738.1" fill="none" stroke="#1a1a1a" stroke-width="2.0" stroke-linejoin="round"/>
<path d="M520,698.1 560,728.1 600,773.1 640,758.1 665,728.1 685,718.1" fill="none" stroke="#1a1a1a" stroke-width="2.0" stroke-linejoin="round"/>
<path d="M610,370 650,365 670,380 685,375" fill="none" stroke="#1a1a1a" stroke-width="2.0" stroke-linejoin="round"/>
</g>
</g>
<g clip-path="url(#c26)">
<g transform="translate(500,570) scale(0.19853)">
<g clip-path="url(#c27)"><g filter="url(#mot_504)"><rect x="50" y="0" width="650" height="900" fill="#bd1a28"/><ellipse cx="280" cy="330" rx="130" ry="120" fill="#d73027" filter="url(#z20)"/><ellipse cx="265" cy="345" rx="30" ry="30" fill="#f46d43" filter="url(#z14)"/><ellipse cx="330" cy="180" rx="25" ry="25" fill="#f46d43" filter="url(#z12)"/><ellipse cx="200" cy="290" rx="25" ry="20" fill="#f46d43" filter="url(#z10)"/><ellipse cx="250" cy="260" rx="20" ry="20" fill="#f46d43" filter="url(#z8)"/><polygon points="105,205 150,205 200,225 230,155 290,85 330,55 340,100 300,140 250,200 180,260 120,250" fill="#a50026" filter="url(#z8)"/><polygon points="440,300 570,300 615,410 560,440 500,400 450,350" fill="#a50026" filter="url(#z8)"/><polygon points="150,478.1 260,488.1 290,588.1 215,593.1 175,558.1" fill="#a50026" filter="url(#z6)"/><polygon points="280,578.1 420,578.1 420,643.1 300,653.1" fill="#a50026" filter="url(#z6)"/><polygon points="470,488.1 575,518.1 620,588.1 560,623.1 500,618.1 470,548.1" fill="#f46d43" filter="url(#z8)"/><polygon points="520,518.1 600,558.1 600,598.1 540,588.1" fill="#fdae61" filter="url(#z6)"/><polygon points="250,468.1 330,488.1 420,538.1 420,588.1 350,578.1 290,538.1" fill="#f46d43" filter="url(#z8)"/><polygon points="290,508.1 340,528.1 400,568.1 340,563.1" fill="#fdae61" filter="url(#z6)"/></g><polygon points="110,335 150,325 180,335 175,355 140,362 115,355" fill="#006837"/><polygon points="150,325 180,330 180,345 155,342" fill="#d9ef8b" filter="url(#z2)"/><polygon points="105,362 140,362 138,400 112,405" fill="#fdae61" filter="url(#z3)"/><ellipse cx="112" cy="385" rx="6" ry="14" fill="#d9ef8b" filter="url(#z3)"/><polygon points="365,270 385,268 385,300 360,312 355,300" fill="#006837"/><rect x="320" y="265" width="42" height="45" fill="#f46d43" filter="url(#z2)"/><rect x="345" y="355" width="30" height="30" fill="#006837"/><polygon points="340,400 390,398 390,440 345,442" fill="#d9ef8b" filter="url(#z3)"/><rect x="350" y="410" width="20" height="20" fill="#a6d96a"/><polygon points="470,380 495,378 498,470 480,470" fill="#006837"/><ellipse cx="312" cy="235" rx="12" ry="10" fill="#d9ef8b" filter="url(#z3)"/><rect x="265" y="290" width="30" height="20" fill="#fee08b" filter="url(#z3)"/><rect x="170" y="260" width="30" height="20" fill="#fdae61" filter="url(#z3)"/><ellipse cx="280" cy="370" rx="18" ry="18" fill="#fee08b" filter="url(#z6)"/><rect x="375" y="315" width="15" height="30" fill="#fff"/><rect x="440" y="320" width="25" height="20" fill="#fff"/><polygon points="255,518.1 275,513.1 292,528.1 282,588.1 262,593.1 262,558.1" fill="#006837"/><polygon points="275,513.1 295,508.1 300,538.1 288,543.1" fill="#a6d96a" filter="url(#z2)"/><polygon points="200,453.1 245,456.1 246,478.1 205,476.1" fill="#006837"/><polygon points="245,463.1 275,473.1 272,493.1 248,483.1" fill="#d9ef8b" filter="url(#z2)"/><polygon points="480,428.1 505,428.1 520,478.1 515,518.1 495,513.1 490,468.1" fill="#006837"/><polygon points="420,488.1 470,490.1 472,538.1 425,540.1" fill="#fff"/><polygon points="430,578.1 500,580.1 500,618.1 470,628.1 432,618.1" fill="#fff"/><rect x="215" y="503.1" width="30" height="20.0" fill="#fff"/><ellipse cx="330" cy="548.1" rx="16" ry="9" fill="#d9ef8b" filter="url(#z4)"/><ellipse cx="375" cy="568.1" rx="10" ry="8" fill="#d9ef8b" filter="url(#z3)"/><ellipse cx="390" cy="578.1" rx="8" ry="8" fill="#a6d96a" filter="url(#z3)"/></g>
<polygon points="495,70 525,68 540,85 550,70 575,72 580,90 560,100 530,100 500,100 485,95" fill="#a50026"/>
<polygon points="455,170 480,165 470,185 450,200" fill="#a50026"/>
<polygon points="495,175 520,175 540,190 535,215 510,205" fill="#a50026"/>
<path d="M330,55 350,42 375,60 385,80 410,62 440,90 465,100 460,130 485,95" fill="none" stroke="#1a1a1a" stroke-width="2.0" stroke-linejoin="round"/>
<path d="M430,155 455,170 470,150 500,155 580,90" fill="none" stroke="#1a1a1a" stroke-width="2.0" stroke-linejoin="round"/>
<path d="M405,250 450,200 495,175" fill="none" stroke="#1a1a1a" stroke-width="2.0" stroke-linejoin="round"/>
<path d="M535,215 540,240 520,245" fill="none" stroke="#1a1a1a" stroke-width="2.0" stroke-linejoin="round"/>
<path d="M565,345 600,370 630,395 635,410 615,410" fill="none" stroke="#1a1a1a" stroke-width="2.0" stroke-linejoin="round"/>
<polygon points="370,683.1 400,680.1 415,703.1 395,728.1 375,713.1" fill="#f46d43"/>
<polygon points="405,738.1 420,733.1 445,778.1 470,813.1 490,828.1 485,858.1 460,853.1 430,828.1 410,788.1" fill="#d73027"/>
<polygon points="365,773.1 390,763.1 405,798.1 400,823.1 375,823.1 365,803.1" fill="#d73027"/>
<polygon points="370,800.1 400,796.1 400,818.1 375,820.1" fill="#006837"/>
<polygon points="420,808.1 450,810.1 450,828.1 422,828.1" fill="#fee08b" filter="url(#z2)"/>
<polygon points="410,858.1 435,858.1 435,878.1 412,878.1" fill="#fdae61"/>
<polygon points="485,743.1 520,738.1 545,718.1 575,733.1 575,753.1 545,758.1 520,763.1 490,763.1" fill="#d73027"/>
<ellipse cx="555" cy="740.1" rx="14" ry="10" fill="#f46d43" filter="url(#z4)"/>
<polygon points="205,678.1 225,673.1 240,698.1 220,728.1 205,708.1" fill="#f46d43"/>
<polygon points="200,608.1 216,608.1 218,678.1 206,678.1" fill="#eef5a0"/>
<polygon points="135,558.1 158,560.1 160,603.1 142,606.1" fill="#f3f7a8"/>
<polygon points="125,498.1 150,500.1 150,548.1 130,546.1" fill="#a50026"/>
<path d="M380,728.1 375,758.1 365,773.1" fill="none" stroke="#1a1a1a" stroke-width="2.0" stroke-linejoin="round"/>
<path d="M445,778.1 470,798.1 490,828.1" fill="none" stroke="#1a1a1a" stroke-width="2.0" stroke-linejoin="round"/>
</g>
<g transform="translate(493,560) scale(0.25094)">
<polygon points="10,360 30,355 35,395 50,425 25,440 10,460" fill="#a50026"/>
<polygon points="10,407 38,405 42,428 12,432" fill="#006837"/>
</g>
</g>
<rect x="0.4" y="16.5" width="134.8" height="188.6" fill="none" stroke="#2a2a2a" stroke-width="1.05"/>
<rect x="169.7" y="17.2" width="139.7" height="186.8" fill="none" stroke="#2a2a2a" stroke-width="1.05"/>
<rect x="335.5" y="16.5" width="134.1" height="187.5" fill="none" stroke="#2a2a2a" stroke-width="1.05"/>
<rect x="502.5" y="16.5" width="134.0" height="188.6" fill="none" stroke="#2a2a2a" stroke-width="1.05"/>
<rect x="6.3" y="564.5" width="134.5" height="188.4" fill="none" stroke="#2a2a2a" stroke-width="1.05"/>
<rect x="169.7" y="564.8" width="133.9" height="187.4" fill="none" stroke="#2a2a2a" stroke-width="1.05"/>
<rect x="332.6" y="565.2" width="134.2" height="187.7" fill="none" stroke="#2a2a2a" stroke-width="1.05"/>
<rect x="495.5" y="564.5" width="140.1" height="187.7" fill="none" stroke="#2a2a2a" stroke-width="1.05"/>
<text x="67.8" y="9.05" font-size="12" text-anchor="middle">San Francisco</text>
<text x="239" y="9.05" font-size="12" text-anchor="middle">Chicago</text>
<text x="402.8" y="9.05" font-size="12" text-anchor="middle">New York</text>
<text x="569.8" y="9.05" font-size="12" text-anchor="middle">Boston</text>
<text x="73.8" y="770.4" font-size="12" text-anchor="middle">Los Angeles</text>
<text x="235.5" y="770.4" font-size="12" text-anchor="middle">Phoenix</text>
<text x="400.5" y="770.4" font-size="12" text-anchor="middle">Dallas</text>
<text x="566" y="770.4" font-size="12" text-anchor="middle">Denver</text>
<path d="M63.5,232.5 62.9,235.4 63.4,241.0 63.5,247.0 63.0,251.6 64.5,252.7 62.7,254.2 61.4,260.3 60.9,265.2 58.2,273.9 55.1,281.1 51.9,289.6 46.7,298.9 44.4,301.8 43.8,308.9 44.5,313.1 43.6,319.6 41.3,325.7 36.9,332.0 38.5,337.1 39.5,344.1 38.2,350.5 38.0,353.1 40.4,359.2 42.4,363.1 41.6,366.2 45.1,368.5 45.8,370.0 44.8,373.8 44.7,377.8 46.5,381.2 48.9,382.2 49.4,384.4 47.2,386.5 46.7,390.3 49.6,395.8 50.8,399.6 54.0,404.2 55.7,407.9 55.0,411.0 54.5,415.2 55.4,417.1 63.3,419.7 67.2,423.9 71.5,426.8 74.7,427.3 75.0,430.9 78.1,432.0 80.8,434.8 84.1,440.1 84.8,444.8 85.4,449.1 M85.4,449.1 111.6,451.6 110.2,454.2 148.7,475.2 180.4,478.8 180.9,473.1 199.5,474.7 202.8,479.1 209.2,484.3 215.5,490.1 218.5,497.3 221.6,504.4 227.1,508.1 235.5,512.4 239.1,507.7 244.4,502.5 250.1,502.3 255.8,502.8 260.9,508.2 264.3,513.3 268.3,521.5 274.7,529.0 277.6,531.5 278.3,537.2 281.3,544.0 287.3,547.1 293.3,549.5 300.5,551.2 305.8,550.4 M305.8,550.4 305.0,543.5 302.6,534.8 304.5,529.1 306.7,525.9 313.4,519.3 320.2,515.2 325.7,511.7 331.7,506.3 335.6,503.5 341.7,501.1 349.0,499.7 356.0,501.2 360.6,501.5 364.3,498.5 368.6,501.9 372.3,504.1 376.0,506.2 380.4,503.8 383.9,504.7 387.0,501.8 393.3,505.5 396.6,504.4 393.8,500.3 388.8,497.7 391.3,494.2 391.5,491.6 388.0,490.8 389.0,490.0 392.2,488.4 397.7,486.4 402.2,486.4 405.7,486.5 405.5,481.4 407.7,484.9 409.7,486.6 412.4,485.8 416.8,484.5 423.3,482.5 428.0,483.1 432.8,484.5 437.7,489.4 442.6,487.9 448.5,482.3 453.0,481.7 457.1,484.8 462.6,488.9 465.0,491.2 468.0,492.3 470.9,498.1 470.3,506.6 474.3,508.4 475.1,512.0 480.0,518.1 483.7,521.1 485.9,523.2 488.0,527.2 493.3,528.6 496.7,532.9 497.9,535.6 502.5,534.1 505.9,532.7 M505.9,532.7 506.2,528.8 507.5,525.0 506.8,518.4 505.5,512.2 502.4,507.8 499.5,503.3 495.2,497.9 495.0,493.3 491.0,489.8 487.6,485.4 483.1,478.6 479.8,471.6 478.4,468.0 477.8,462.9 478.9,457.4 478.9,452.8 481.1,449.7 484.1,445.7 487.5,441.0 489.3,439.2 492.6,434.5 495.1,431.2 495.2,427.2 497.2,423.8 499.9,421.4 505.4,419.2 506.1,419.7 506.5,415.0 509.6,410.1 513.1,406.9 518.0,406.4 519.4,402.0 521.8,398.6 526.0,395.6 525.3,390.9 522.7,387.0 519.8,383.8 517.8,380.3 515.5,376.3 512.1,376.6 M512.1,376.6 510.2,373.8 511.0,370.9 509.7,368.6 508.7,364.9 505.6,361.7 506.1,359.6 503.9,355.5 503.3,351.6 502.8,348.4 505.0,345.0 506.1,345.4 505.7,350.9 506.6,354.0 506.5,357.4 509.2,359.3 512.1,360.5 512.4,363.1 514.9,364.4 513.7,369.4 514.3,373.3 515.6,372.2 516.6,366.6 517.5,360.9 518.7,356.1 518.7,354.4 517.1,350.2 513.4,347.3 511.5,344.5 509.6,341.6 M509.6,341.6 510.7,343.4 514.3,345.0 517.9,348.2 520.0,343.2 521.3,340.8 522.3,335.7 521.9,329.7 521.1,326.6 518.5,327.0 518.8,324.7 519.7,323.6 M519.7,323.6 520.1,325.1 524.1,323.8 529.1,320.5 534.0,316.8 538.0,312.4 534.8,314.5 533.8,313.1 531.2,316.0 526.4,318.3 522.6,320.6 521.4,321.7 521.2,320.7 522.0,318.8 M522.0,318.8 524.7,316.3 526.9,313.7 531.4,312.0 535.7,309.8 537.1,309.3 540.0,307.6 539.7,303.9 539.7,302.5 541.7,305.2 542.9,304.8 544.2,303.6 545.8,301.0 546.9,302.6 549.7,300.5 552.2,299.0 552.1,297.3 551.0,294.9 548.6,294.7 550.5,296.5 551.4,297.5 549.3,299.3 547.2,299.4 544.9,297.2 543.4,294.3 540.5,294.6 540.7,292.5 542.5,289.1 539.8,287.3 539.7,284.3 539.8,280.4 541.7,276.2 544.3,272.5 547.9,269.0 549.8,266.2 550.1,261.9 553.3,262.7 555.7,261.1 558.1,257.4 560.7,254.2 563.7,250.6 M563.7,250.6 561.0,247.7 557.4,247.1 555.7,242.9 552.3,242.9 551.5,240.4 545.8,226.4 540.2,224.6 536.1,228.4 534.4,227.7 533.7,225.8 532.3,226.3 529.4,237.9 530.3,241.7 529.2,244.9 530.7,247.8 530.4,250.7 528.8,258.1 526.4,258.3 524.3,260.4 524.3,263.0 496.9,272.3 M496.9,272.3 492.2,275.7 489.4,282.0 485.9,286.4 487.9,289.9 489.1,294.3 485.2,297.4 480.3,300.6 476.4,300.5 469.2,302.2 464.6,304.9 466.0,308.7 467.3,309.7 465.5,314.2 461.3,319.0 455.1,324.3 449.5,328.7 445.5,332.9 439.2,335.6 436.2,334.9 433.2,334.9 428.5,333.4 430.2,329.5 430.3,325.5 432.4,323.8 433.2,321.0 434.9,319.9 434.7,315.3 432.2,309.2 430.2,304.3 427.1,302.7 424.2,304.9 419.6,309.8 421.7,304.1 423.2,299.8 421.5,291.6 418.9,287.5 413.2,286.6 406.8,284.1 405.0,286.8 404.7,290.1 402.4,292.5 401.5,298.0 401.2,293.4 399.4,296.3 396.4,300.1 396.6,304.1 394.9,308.3 396.6,315.9 399.5,322.0 400.8,329.7 398.8,335.3 396.8,338.7 393.5,341.0 390.3,340.5 388.5,336.9 386.2,330.7 384.3,324.4 384.7,317.7 384.6,313.8 385.2,308.5 386.3,300.4 388.1,294.3 385.7,299.2 383.0,302.9 380.5,304.6 380.8,300.6 383.0,297.0 384.9,291.5 387.2,288.5 390.6,287.3 392.8,284.3 396.3,283.7 399.6,281.4 404.5,281.6 406.7,283.2 410.3,280.8 413.7,279.9 411.4,277.0 408.6,274.3 406.5,275.3 402.8,271.8 398.2,273.8 393.0,274.8 389.2,278.3 385.5,277.9 382.0,278.1 379.2,274.6 374.3,274.3 372.4,276.5 373.8,270.8 377.2,267.1 372.6,268.4 368.0,272.9 364.9,276.6 359.9,278.5 355.8,281.4 352.5,280.1 351.7,276.9 348.4,278.5 345.1,280.6 341.6,281.2 340.7,280.6 343.8,276.4 347.7,272.1 353.2,266.9 360.5,262.2 356.9,261.3 349.9,260.8 344.2,263.1 339.6,260.6 336.2,260.9 331.6,257.1 327.4,257.8 324.0,258.7 319.7,257.0 316.7,256.6 315.1,252.1 312.0,248.7 312.3,253.6 M312.3,253.6 305.1,254.0 296.7,254.4 288.2,254.6 279.8,254.8 271.4,254.9 263.0,254.8 254.5,254.7 246.1,254.4 237.7,254.1 229.2,253.7 220.8,253.1 212.4,252.5 204.0,251.7 195.6,250.9 187.3,250.0 178.9,248.9 170.5,247.8 162.2,246.6 153.9,245.2 145.5,243.8 137.3,242.3 129.0,240.7 120.7,238.9 112.5,237.1 104.3,235.2 96.1,233.2 87.9,231.0 81.8,229.4 M81.8,229.4 82.2,232.8 82.2,236.2 82.4,240.3 81.5,245.4 78.9,251.4 74.1,252.8 77.5,248.3 79.3,243.5 78.9,240.0 76.0,239.2 72.7,238.5 68.0,236.2 63.5,232.5 M61.4,260.3 66.7,262.8 69.2,263.8 70.8,268.0 70.3,271.2 74.8,273.5 81.3,273.5 84.5,275.4 90.0,275.7 98.4,274.8 103.9,275.0 122.0,278.9 M128.7,240.6 122.0,273.3 122.0,278.9 M122.0,278.9 124.4,286.0 119.8,293.0 115.3,298.7 116.7,301.0 115.3,306.6 110.7,329.5 M44.5,313.1 55.5,316.3 64.6,318.8 73.9,321.2 83.1,323.4 92.3,325.6 101.6,327.7 110.7,329.5 120.3,331.4 129.6,333.2 138.5,334.7 148.4,336.3 157.8,337.7 166.7,338.9 M83.1,323.4 74.0,361.2 117.6,422.9 M117.6,422.9 117.8,425.6 118.5,432.2 121.0,433.0 116.5,437.1 115.4,442.1 112.4,448.1 114.2,451.0 111.6,451.6 M117.6,422.9 118.7,415.3 118.7,409.0 122.5,408.8 126.2,408.7 127.9,398.6 M127.9,398.6 138.5,334.7 M127.9,398.6 138.5,400.3 148.7,401.8 158.9,403.2 169.1,404.4 178.8,405.5 189.5,406.6 199.7,407.5 210.0,408.2 220.2,408.9 230.5,409.4 240.8,409.9 250.6,410.1 261.3,410.3 271.6,410.4 281.9,410.3 292.2,410.1 302.4,409.8 312.7,409.3 322.9,408.8 326.8,408.5 M178.8,405.5 184.2,354.0 M166.7,338.9 165.1,351.8 175.1,353.0 184.2,354.0 M184.2,354.0 194.3,355.0 204.0,355.9 213.6,356.6 223.2,357.2 232.4,357.7 M355.8,281.4 358.6,284.1 367.9,285.5 370.7,286.6 377.0,287.1 379.6,289.0 380.8,294.1 383.0,297.0 M178.8,405.5 171.1,477.8 M166.7,338.9 170.9,307.1 M170.9,307.1 168.1,303.5 162.4,304.9 154.9,305.8 153.2,304.8 150.2,297.8 147.3,287.5 141.7,288.5 144.4,283.0 145.0,274.6 141.0,269.3 136.1,262.5 134.4,254.9 136.8,242.2 M170.9,307.1 171.8,300.3 181.2,301.4 190.2,302.4 199.2,303.3 208.2,304.1 217.2,304.8 226.2,305.4 234.8,305.8 M237.2,254.1 232.4,357.7 M235.4,293.7 244.7,294.0 253.6,294.3 262.5,294.4 271.4,294.5 280.3,294.4 289.2,294.2 298.1,294.0 302.1,293.8 M233.6,331.8 243.4,332.2 252.8,332.4 262.1,332.6 271.5,332.6 280.8,332.6 285.5,332.5 288.4,334.4 291.2,335.0 294.9,334.1 297.7,334.1 300.6,335.7 302.6,337.2 305.0,338.5 M232.4,357.7 242.5,358.1 251.7,358.4 251.4,371.3 M251.4,371.3 261.7,371.5 271.5,371.6 281.4,371.5 291.2,371.3 301.0,371.0 310.8,370.6 317.7,370.2 M251.4,371.3 250.6,410.1 M240.8,409.9 240.6,416.3 240.1,416.3 237.9,474.0 227.6,473.6 216.5,473.0 198.7,471.8 199.5,474.7 M240.6,416.3 250.9,416.6 261.3,416.8 271.6,416.8 271.6,441.8 274.8,443.8 280.2,445.1 282.9,446.3 286.6,446.9 292.0,447.2 293.7,450.2 301.7,449.7 304.9,448.9 308.2,450.3 312.6,450.9 316.8,449.7 323.2,448.1 327.6,450.4 331.2,451.5 M326.8,408.5 327.3,415.0 330.2,429.0 331.2,451.5 M331.2,451.5 336.0,452.4 336.5,459.1 337.4,472.1 340.5,478.3 343.6,481.9 342.6,490.9 342.3,494.7 341.7,501.1 M336.5,459.4 347.8,458.5 358.6,457.5 367.6,456.6 M327.3,415.0 344.0,413.7 354.3,412.8 364.6,411.7 373.3,410.7 371.8,417.4 378.8,416.5 M326.8,408.5 325.1,381.4 322.1,377.7 319.7,372.0 317.7,370.2 M317.7,370.2 314.5,366.5 312.9,362.9 311.5,355.0 308.8,348.6 306.1,342.2 305.0,338.5 M305.0,338.5 303.4,335.2 304.2,330.6 303.3,328.1 304.4,325.4 M304.4,325.4 303.4,302.1 299.6,298.3 302.1,293.8 M302.1,293.8 301.5,289.2 299.6,285.3 299.6,281.7 298.7,275.0 296.9,268.3 295.6,260.9 294.7,254.4 M304.4,325.4 317.8,324.7 327.1,324.1 336.3,323.4 345.6,322.5 352.8,321.8 M312.7,362.9 320.1,362.5 329.8,361.9 339.5,361.1 349.2,360.2 351.8,360.0 355.1,362.3 M340.7,280.6 339.1,281.9 339.8,289.6 335.5,292.2 336.3,296.0 337.4,298.5 337.0,303.8 336.8,307.0 341.6,309.9 345.5,312.1 350.5,316.2 352.1,317.9 352.8,321.8 M352.8,321.8 354.1,327.5 359.5,334.1 364.3,338.8 365.3,342.6 361.9,346.9 357.3,348.5 357.6,356.5 355.1,362.3 354.9,367.9 359.4,373.3 363.4,378.0 365.7,380.6 369.3,380.6 369.8,383.4 368.7,389.2 373.7,392.5 378.7,399.7 382.8,403.0 381.8,407.7 380.0,409.9 379.9,413.2 378.8,416.5 376.9,423.3 375.9,428.2 374.3,432.0 371.8,438.1 368.2,444.9 367.6,456.6 369.6,462.8 371.4,464.5 367.0,474.6 365.5,482.5 M365.5,482.5 377.8,481.2 386.3,480.1 386.2,485.3 389.0,490.0 M359.5,334.1 370.3,332.8 379.6,331.6 386.2,330.7 M390.2,340.3 394.7,370.7 394.7,375.3 396.7,381.5 393.1,388.6 392.7,391.2 M382.8,403.0 388.2,401.3 389.2,397.0 392.7,391.2 396.7,388.7 402.0,389.8 406.9,387.8 409.3,384.1 414.5,381.6 417.0,375.2 421.8,369.4 425.0,368.9 428.6,372.1 434.5,373.2 440.6,370.7 445.4,373.8 448.8,370.7 447.8,366.2 451.5,362.1 453.2,360.8 457.8,356.1 458.6,353.2 459.7,347.0 458.0,342.0 459.1,341.2 M421.8,369.4 415.8,336.3 M396.8,338.7 415.6,335.5 428.5,333.4 M455.1,324.3 461.9,352.8 M461.9,352.8 471.8,350.4 486.0,346.8 495.5,344.1 506.9,340.8 M471.8,350.4 473.5,356.9 476.7,352.5 478.9,349.5 482.5,349.3 484.3,347.5 489.6,350.7 489.9,351.1 M489.9,351.1 492.8,353.2 497.4,354.6 497.2,361.4 501.6,362.2 508.5,364.2 M489.9,351.1 489.6,353.7 483.7,351.6 483.1,357.2 480.7,360.8 479.4,360.8 477.7,366.3 473.8,365.1 473.3,369.4 472.1,373.3 470.7,380.3 465.6,383.4 461.9,385.6 457.6,387.3 454.0,383.6 M454.0,383.6 450.2,382.2 446.1,377.2 445.4,373.8 M454.0,383.6 448.0,391.3 444.7,395.9 439.2,399.0 M459.5,394.9 451.2,396.6 439.2,399.0 425.8,401.3 410.4,403.5 394.4,405.6 394.7,407.9 380.0,409.9 M459.6,395.4 476.5,391.5 486.6,389.0 496.6,386.3 506.6,383.6 517.8,380.3 M459.5,394.9 457.6,401.8 451.8,404.3 447.3,408.6 441.6,412.1 438.4,414.9 436.3,417.9 436.6,420.6 M449.2,418.0 436.6,420.5 423.2,422.9 408.6,425.3 396.1,427.2 387.7,428.4 374.0,430.1 M449.2,418.0 456.0,414.0 470.0,411.5 470.3,412.8 471.8,412.0 473.8,415.0 485.3,412.5 499.9,421.4 M449.2,418.0 447.4,422.3 452.7,424.1 454.7,426.1 462.2,433.0 465.3,434.3 471.3,438.9 473.6,444.2 477.4,448.6 481.1,449.7 M423.2,423.2 432.4,449.0 435.5,453.8 436.7,464.7 438.6,472.2 M438.6,472.2 440.9,475.6 470.5,471.4 472.7,473.5 472.1,468.3 478.4,468.0 M438.6,472.2 422.1,475.0 409.9,476.9 412.8,481.0 412.4,485.8 M396.1,427.2 397.3,428.3 398.7,466.9 402.2,486.4 M461.3,319.0 462.1,322.4 478.3,318.2 492.0,314.4 502.5,311.3 M502.5,311.3 506.8,315.4 510.9,317.4 508.4,323.3 508.8,327.0 511.3,330.3 514.9,331.9 512.8,336.6 510.3,338.7 509.6,341.6 M510.9,317.4 519.7,319.5 519.7,323.6 M510.3,338.7 508.3,338.9 506.9,340.8 512.4,356.2 518.7,354.4 M512.4,363.1 517.5,360.9 M508.5,268.6 510.1,274.9 513.7,286.0 515.3,286.2 518.2,296.1 M518.2,296.1 519.1,305.4 521.7,314.8 522.7,315.8 520.9,317.8 522.0,318.8 M524.3,263.0 525.6,269.6 523.0,274.6 523.4,280.0 523.4,285.5 524.6,290.6 524.8,294.2 M518.2,296.1 524.8,294.2 536.1,290.7 536.3,290.0 538.8,287.2 539.7,287.0 M539.7,284.3 535.9,281.5 535.2,279.0 530.5,267.8 526.6,258.2 M519.1,305.4 528.2,302.6 534.5,300.6 538.3,299.3 538.8,300.7 541.5,303.2 542.9,304.8 M534.5,300.6 537.2,308.2 537.1,309.3 M546.0,305.7 549.2,304.6 549.3,303.6 547.7,303.3 546.0,305.7 M551.8,304.7 554.4,304.0 553.8,303.2 551.8,304.7 M54.3,422.4 63.6,425.0 59.8,424.8 54.3,422.4 M72.1,433.9 74.9,436.5 72.8,435.7 72.1,433.9 M70.9,439.6 73.0,442.6 M364.1,263.6 369.6,259.0 M506.2,533.9 501.2,538.9 494.5,542.4 491.2,544.4" fill="none" stroke="#222" stroke-width="0.38" stroke-linejoin="round"/>
<circle cx="80.9" cy="248.2" r="3.1" fill="#006837" stroke="#111" stroke-width="0.6"/>
<circle cx="70.2" cy="272.7" r="3.1" fill="#006837" stroke="#111" stroke-width="0.6"/>
<circle cx="48.7" cy="371" r="3.1" fill="#158e4b" stroke="#111" stroke-width="0.6"/>
<circle cx="60.2" cy="362" r="3.1" fill="#73c364" stroke="#111" stroke-width="0.6"/>
<circle cx="78.7" cy="428.2" r="3.1" fill="#feeca0" stroke="#111" stroke-width="0.6"/>
<circle cx="88.9" cy="430.4" r="3.1" fill="#eb5b3b" stroke="#111" stroke-width="0.6"/>
<circle cx="86.7" cy="443.7" r="3.1" fill="#006837" stroke="#111" stroke-width="0.6"/>
<circle cx="142.6" cy="446.2" r="3.1" fill="#b40e26" stroke="#111" stroke-width="0.6"/>
<circle cx="152.1" cy="463.4" r="3.1" fill="#b40e26" stroke="#111" stroke-width="0.6"/>
<circle cx="201.5" cy="432.1" r="3.1" fill="#fec776" stroke="#111" stroke-width="0.6"/>
<circle cx="222.2" cy="374.3" r="3.1" fill="#e85538" stroke="#111" stroke-width="0.6"/>
<circle cx="299.3" cy="283.2" r="3.1" fill="#f8874f" stroke="#111" stroke-width="0.6"/>
<circle cx="339.5" cy="280.2" r="3.1" fill="#66bd63" stroke="#111" stroke-width="0.6"/>
<circle cx="332.8" cy="305.1" r="3.1" fill="#006837" stroke="#111" stroke-width="0.6"/>
<circle cx="349.9" cy="305.1" r="3.1" fill="#86cb66" stroke="#111" stroke-width="0.6"/>
<circle cx="352.9" cy="317.6" r="3.1" fill="#eb5b3b" stroke="#111" stroke-width="0.6"/>
<circle cx="325.5" cy="382.4" r="3.1" fill="#80c866" stroke="#111" stroke-width="0.6"/>
<circle cx="304.6" cy="462.6" r="3.1" fill="#0a7b41" stroke="#111" stroke-width="0.6"/>
<circle cx="303.1" cy="479.6" r="3.1" fill="#e85538" stroke="#111" stroke-width="0.6"/>
<circle cx="297.6" cy="485.1" r="3.1" fill="#e85538" stroke="#111" stroke-width="0.6"/>
<circle cx="323.8" cy="500.8" r="3.1" fill="#80c866" stroke="#111" stroke-width="0.6"/>
<circle cx="366" cy="302.6" r="3.1" fill="#fa9a58" stroke="#111" stroke-width="0.6"/>
<circle cx="371.2" cy="325.3" r="3.1" fill="#006837" stroke="#111" stroke-width="0.6"/>
<circle cx="383.2" cy="323.8" r="3.1" fill="#006837" stroke="#111" stroke-width="0.6"/>
<circle cx="376" cy="335.3" r="3.1" fill="#eb5b3b" stroke="#111" stroke-width="0.6"/>
<circle cx="386.9" cy="339.3" r="3.1" fill="#feeca0" stroke="#111" stroke-width="0.6"/>
<circle cx="404.6" cy="322.6" r="3.1" fill="#feeca0" stroke="#111" stroke-width="0.6"/>
<circle cx="416.6" cy="323.1" r="3.1" fill="#fbfdba" stroke="#111" stroke-width="0.6"/>
<circle cx="429.4" cy="323.1" r="3.1" fill="#006837" stroke="#111" stroke-width="0.6"/>
<circle cx="459.5" cy="322.3" r="3.1" fill="#f7804c" stroke="#111" stroke-width="0.6"/>
<circle cx="456.9" cy="335.3" r="3.1" fill="#006837" stroke="#111" stroke-width="0.6"/>
<circle cx="465.6" cy="342.7" r="3.1" fill="#006837" stroke="#111" stroke-width="0.6"/>
<circle cx="480.4" cy="338.1" r="3.1" fill="#e34832" stroke="#111" stroke-width="0.6"/>
<circle cx="438.6" cy="354.3" r="3.1" fill="#0d8044" stroke="#111" stroke-width="0.6"/>
<circle cx="407.9" cy="362.5" r="3.1" fill="#66bd63" stroke="#111" stroke-width="0.6"/>
<circle cx="368.7" cy="383.6" r="3.1" fill="#8cce67" stroke="#111" stroke-width="0.6"/>
<circle cx="511.1" cy="336.2" r="3.1" fill="#006837" stroke="#111" stroke-width="0.6"/>
<circle cx="520.6" cy="321.9" r="3.1" fill="#006837" stroke="#111" stroke-width="0.6"/>
<circle cx="500.9" cy="348.6" r="3.1" fill="#006837" stroke="#111" stroke-width="0.6"/>
<circle cx="496.6" cy="355" r="3.1" fill="#006837" stroke="#111" stroke-width="0.6"/>
<circle cx="492.3" cy="397.5" r="3.1" fill="#006837" stroke="#111" stroke-width="0.6"/>
<circle cx="409.4" cy="410.8" r="3.1" fill="#006837" stroke="#111" stroke-width="0.6"/>
<circle cx="539.1" cy="292.4" r="3.1" fill="#006837" stroke="#111" stroke-width="0.6"/>
<circle cx="533.9" cy="296.9" r="3.1" fill="#006837" stroke="#111" stroke-width="0.6"/>
<circle cx="540.1" cy="301.4" r="3.1" fill="#006837" stroke="#111" stroke-width="0.6"/>
<circle cx="438.4" cy="435.2" r="3.1" fill="#006837" stroke="#111" stroke-width="0.6"/>
<circle cx="413.4" cy="444.4" r="3.1" fill="#006837" stroke="#111" stroke-width="0.6"/>
<circle cx="405.4" cy="448.9" r="3.1" fill="#f99455" stroke="#111" stroke-width="0.6"/>
<circle cx="382.7" cy="492.1" r="3.1" fill="#fdb869" stroke="#111" stroke-width="0.6"/>
<circle cx="475.8" cy="474.9" r="3.1" fill="#1a9850" stroke="#111" stroke-width="0.6"/>
<circle cx="468.8" cy="483.6" r="3.1" fill="#006837" stroke="#111" stroke-width="0.6"/>
<circle cx="470.8" cy="504.1" r="3.1" fill="#d9ef8b" stroke="#111" stroke-width="0.6"/>
<circle cx="500.5" cy="522" r="3.1" fill="#e8f5a0" stroke="#111" stroke-width="0.6"/>
<rect x="628.4" y="267.4" width="11.8" height="240.7" fill="url(#cb)" stroke="#555" stroke-width="0.5"/>
<line x1="640.2" x2="643.7" y1="508.1" y2="508.1" stroke="#333" stroke-width="0.6"/>
<text x="649.5" y="511.8" font-size="10.3">0</text>
<line x1="640.2" x2="643.7" y1="460.0" y2="460.0" stroke="#333" stroke-width="0.6"/>
<text x="649.5" y="463.6" font-size="10.3">20</text>
<line x1="640.2" x2="643.7" y1="411.8" y2="411.8" stroke="#333" stroke-width="0.6"/>
<text x="649.5" y="415.5" font-size="10.3">40</text>
<line x1="640.2" x2="643.7" y1="363.7" y2="363.7" stroke="#333" stroke-width="0.6"/>
<text x="649.5" y="367.3" font-size="10.3">60</text>
<line x1="640.2" x2="643.7" y1="315.5" y2="315.5" stroke="#333" stroke-width="0.6"/>
<text x="649.5" y="319.2" font-size="10.3">80</text>
<line x1="640.2" x2="643.7" y1="267.4" y2="267.4" stroke="#333" stroke-width="0.6"/>
<text x="649.5" y="271.1" font-size="10.3">100</text>
<text transform="translate(675.5,388.2) rotate(90)" font-size="12" text-anchor="middle" textLength="93.5" lengthAdjust="spacing">Park accessibility</text>
</svg></body></html>
